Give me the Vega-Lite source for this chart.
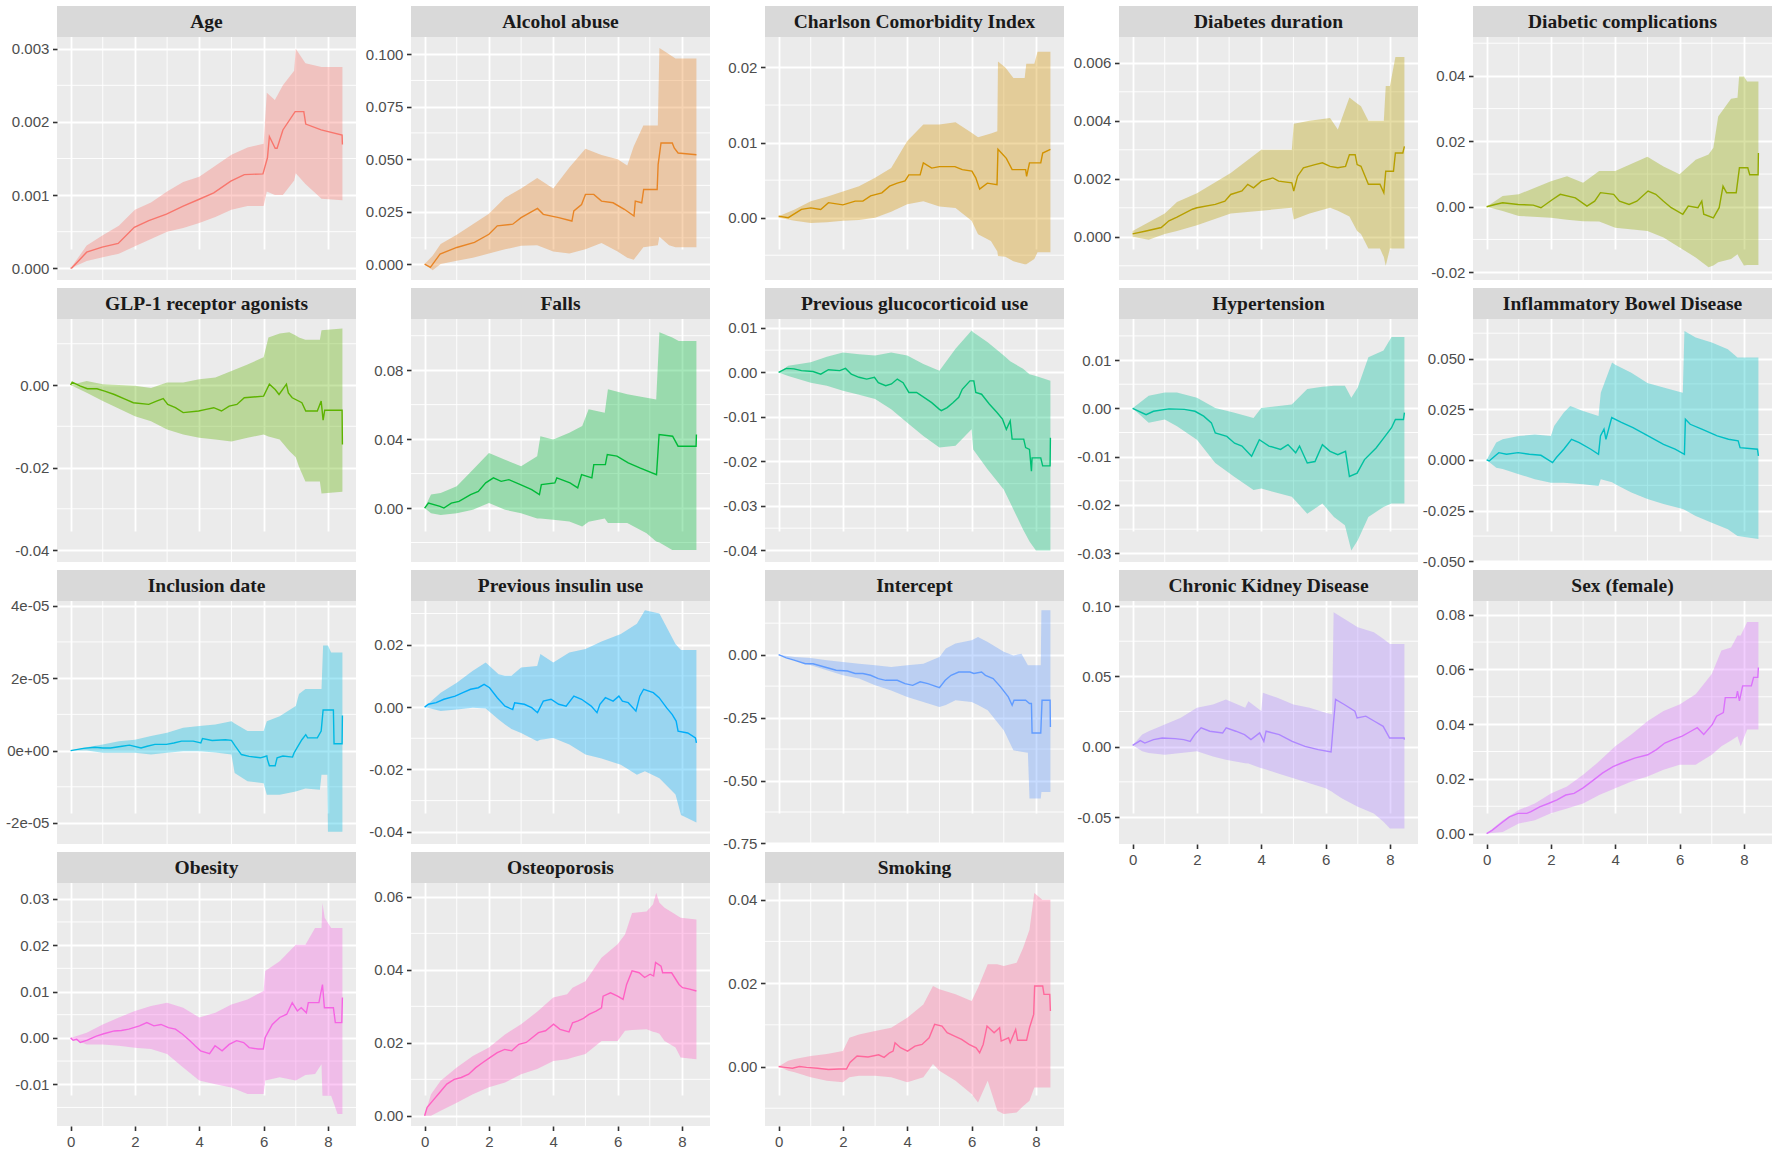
{
  "$schema": "https://vega.github.io/schema/vega-lite/v6.json",
  "background": "#FFFFFF",
  "padding": {"left": 5, "top": 5, "right": 2, "bottom": 2},
  "datasets": {
    "xminor": [{"x": 1}, {"x": 3}, {"x": 5}, {"x": 7}],
    "est": [
      {"p":"age","t":0,"y":0},{"p":"age","t":0.05,"y":0.00001},{"p":"age","t":0.5,"y":0.00022},{"p":"age","t":0.98,"y":0.00029},{"p":"age","t":1.48,"y":0.00034},{"p":"age","t":1.98,"y":0.00056},{"p":"age","t":2.43,"y":0.00065},{"p":"age","t":2.98,"y":0.00074},{"p":"age","t":3.5,"y":0.00085},{"p":"age","t":3.98,"y":0.00094},{"p":"age","t":4.45,"y":0.00103},{"p":"age","t":4.98,"y":0.00119},{"p":"age","t":5.4,"y":0.00128},{"p":"age","t":5.98,"y":0.00129},{"p":"age","t":6.12,"y":0.00151},{"p":"age","t":6.18,"y":0.0018},{"p":"age","t":6.36,"y":0.00164},{"p":"age","t":6.42,"y":0.00164},{"p":"age","t":6.6,"y":0.00189},{"p":"age","t":6.98,"y":0.00214},{"p":"age","t":7.25,"y":0.00214},{"p":"age","t":7.31,"y":0.00197},{"p":"age","t":7.79,"y":0.00189},{"p":"age","t":8.44,"y":0.00182},{"p":"age","t":8.45,"y":0.00169},
      {"p":"alc","t":0,"y":0},{"p":"alc","t":0.18,"y":-0.0016},{"p":"alc","t":0.48,"y":0.0047},{"p":"alc","t":1.0,"y":0.0079},{"p":"alc","t":1.55,"y":0.0103},{"p":"alc","t":2.0,"y":0.0142},{"p":"alc","t":2.26,"y":0.0182},{"p":"alc","t":2.74,"y":0.019},{"p":"alc","t":3.0,"y":0.0221},{"p":"alc","t":3.51,"y":0.0265},{"p":"alc","t":3.69,"y":0.0237},{"p":"alc","t":4.17,"y":0.0221},{"p":"alc","t":4.58,"y":0.0205},{"p":"alc","t":4.64,"y":0.0253},{"p":"alc","t":4.88,"y":0.0284},{"p":"alc","t":5.0,"y":0.0332},{"p":"alc","t":5.26,"y":0.0332},{"p":"alc","t":5.5,"y":0.03},{"p":"alc","t":5.86,"y":0.0292},{"p":"alc","t":6.21,"y":0.0261},{"p":"alc","t":6.51,"y":0.0229},{"p":"alc","t":6.55,"y":0.03},{"p":"alc","t":6.75,"y":0.0292},{"p":"alc","t":6.81,"y":0.0355},{"p":"alc","t":7.23,"y":0.0355},{"p":"alc","t":7.26,"y":0.0474},{"p":"alc","t":7.35,"y":0.0577},{"p":"alc","t":7.7,"y":0.0577},{"p":"alc","t":7.76,"y":0.0553},{"p":"alc","t":7.88,"y":0.0529},{"p":"alc","t":8.45,"y":0.0521},
      {"p":"cci","t":0,"y":0.0002},{"p":"cci","t":0.3,"y":0},{"p":"cci","t":0.71,"y":0.0011},{"p":"cci","t":1.0,"y":0.0013},{"p":"cci","t":1.31,"y":0.0011},{"p":"cci","t":1.55,"y":0.002},{"p":"cci","t":2.0,"y":0.0017},{"p":"cci","t":2.38,"y":0.0022},{"p":"cci","t":2.62,"y":0.0022},{"p":"cci","t":2.86,"y":0.0029},{"p":"cci","t":3.21,"y":0.0033},{"p":"cci","t":3.45,"y":0.0042},{"p":"cci","t":3.69,"y":0.0046},{"p":"cci","t":3.93,"y":0.0049},{"p":"cci","t":4.05,"y":0.0057},{"p":"cci","t":4.4,"y":0.0057},{"p":"cci","t":4.5,"y":0.0073},{"p":"cci","t":4.76,"y":0.0066},{"p":"cci","t":5.0,"y":0.0068},{"p":"cci","t":5.48,"y":0.0068},{"p":"cci","t":5.71,"y":0.0064},{"p":"cci","t":6.01,"y":0.0062},{"p":"cci","t":6.13,"y":0.0053},{"p":"cci","t":6.25,"y":0.0038},{"p":"cci","t":6.49,"y":0.0046},{"p":"cci","t":6.79,"y":0.0044},{"p":"cci","t":6.82,"y":0.0091},{"p":"cci","t":7.08,"y":0.0079},{"p":"cci","t":7.26,"y":0.0064},{"p":"cci","t":7.68,"y":0.0064},{"p":"cci","t":7.71,"y":0.0055},{"p":"cci","t":7.8,"y":0.0073},{"p":"cci","t":8.15,"y":0.0073},{"p":"cci","t":8.21,"y":0.0086},{"p":"cci","t":8.45,"y":0.0091},
      {"p":"dd","t":0,"y":0.0001},{"p":"dd","t":0.42,"y":0.0002},{"p":"dd","t":0.89,"y":0.00032},{"p":"dd","t":1.13,"y":0.00055},{"p":"dd","t":1.38,"y":0.00068},{"p":"dd","t":1.86,"y":0.00095},{"p":"dd","t":2.0,"y":0.001},{"p":"dd","t":2.57,"y":0.00112},{"p":"dd","t":2.87,"y":0.00123},{"p":"dd","t":3.05,"y":0.00146},{"p":"dd","t":3.4,"y":0.00158},{"p":"dd","t":3.58,"y":0.00181},{"p":"dd","t":3.76,"y":0.00169},{"p":"dd","t":4.0,"y":0.00192},{"p":"dd","t":4.36,"y":0.00203},{"p":"dd","t":4.54,"y":0.00192},{"p":"dd","t":4.95,"y":0.00186},{"p":"dd","t":5.01,"y":0.00158},{"p":"dd","t":5.13,"y":0.00209},{"p":"dd","t":5.31,"y":0.00238},{"p":"dd","t":5.67,"y":0.00249},{"p":"dd","t":5.9,"y":0.00255},{"p":"dd","t":6.14,"y":0.00243},{"p":"dd","t":6.38,"y":0.00238},{"p":"dd","t":6.62,"y":0.00243},{"p":"dd","t":6.74,"y":0.00283},{"p":"dd","t":6.92,"y":0.00283},{"p":"dd","t":6.98,"y":0.00249},{"p":"dd","t":7.1,"y":0.00243},{"p":"dd","t":7.33,"y":0.00181},{"p":"dd","t":7.69,"y":0.00181},{"p":"dd","t":7.81,"y":0.00152},{"p":"dd","t":7.87,"y":0.00226},{"p":"dd","t":8.11,"y":0.00226},{"p":"dd","t":8.17,"y":0.00289},{"p":"dd","t":8.4,"y":0.00289},{"p":"dd","t":8.45,"y":0.00312},
      {"p":"dc","t":0,"y":0},{"p":"dc","t":0.26,"y":0.0007},{"p":"dc","t":0.5,"y":0.0012},{"p":"dc","t":0.98,"y":0.0007},{"p":"dc","t":1.45,"y":0.0005},{"p":"dc","t":1.69,"y":-0.0003},{"p":"dc","t":2.05,"y":0.0022},{"p":"dc","t":2.29,"y":0.0038},{"p":"dc","t":2.76,"y":0.0027},{"p":"dc","t":3.12,"y":0.0002},{"p":"dc","t":3.36,"y":0.0017},{"p":"dc","t":3.54,"y":0.0043},{"p":"dc","t":3.95,"y":0.0038},{"p":"dc","t":4.13,"y":0.0017},{"p":"dc","t":4.43,"y":0.0007},{"p":"dc","t":4.67,"y":0.0017},{"p":"dc","t":5.02,"y":0.0048},{"p":"dc","t":5.26,"y":0.0038},{"p":"dc","t":5.5,"y":0.0017},{"p":"dc","t":5.74,"y":-0.0003},{"p":"dc","t":6.1,"y":-0.0023},{"p":"dc","t":6.27,"y":0.0002},{"p":"dc","t":6.57,"y":-0.0003},{"p":"dc","t":6.69,"y":0.0017},{"p":"dc","t":6.75,"y":-0.0023},{"p":"dc","t":7.05,"y":-0.0034},{"p":"dc","t":7.23,"y":-0.0003},{"p":"dc","t":7.35,"y":0.0063},{"p":"dc","t":7.46,"y":0.0043},{"p":"dc","t":7.76,"y":0.0043},{"p":"dc","t":7.86,"y":0.0119},{"p":"dc","t":8.12,"y":0.0119},{"p":"dc","t":8.18,"y":0.0098},{"p":"dc","t":8.44,"y":0.0098},{"p":"dc","t":8.45,"y":0.0164},
      {"p":"glp","t":0,"y":0},{"p":"glp","t":0.05,"y":0.0007},{"p":"glp","t":0.29,"y":-0.0002},{"p":"glp","t":0.52,"y":-0.0009},{"p":"glp","t":0.82,"y":-0.0009},{"p":"glp","t":1.06,"y":-0.0015},{"p":"glp","t":1.36,"y":-0.0023},{"p":"glp","t":1.71,"y":-0.0035},{"p":"glp","t":1.95,"y":-0.0043},{"p":"glp","t":2.43,"y":-0.0047},{"p":"glp","t":2.67,"y":-0.0039},{"p":"glp","t":2.88,"y":-0.0033},{"p":"glp","t":3.02,"y":-0.0047},{"p":"glp","t":3.26,"y":-0.0055},{"p":"glp","t":3.5,"y":-0.0067},{"p":"glp","t":3.98,"y":-0.0063},{"p":"glp","t":4.21,"y":-0.0059},{"p":"glp","t":4.45,"y":-0.0055},{"p":"glp","t":4.69,"y":-0.0063},{"p":"glp","t":4.93,"y":-0.0051},{"p":"glp","t":5.17,"y":-0.0047},{"p":"glp","t":5.4,"y":-0.0031},{"p":"glp","t":6.0,"y":-0.0027},{"p":"glp","t":6.18,"y":0.0002},{"p":"glp","t":6.36,"y":-0.0011},{"p":"glp","t":6.48,"y":-0.0023},{"p":"glp","t":6.71,"y":0.0002},{"p":"glp","t":6.77,"y":-0.0019},{"p":"glp","t":6.89,"y":-0.0031},{"p":"glp","t":7.19,"y":-0.0043},{"p":"glp","t":7.31,"y":-0.0063},{"p":"glp","t":7.67,"y":-0.0063},{"p":"glp","t":7.79,"y":-0.0039},{"p":"glp","t":7.85,"y":-0.0085},{"p":"glp","t":7.9,"y":-0.0061},{"p":"glp","t":8.44,"y":-0.0061},{"p":"glp","t":8.45,"y":-0.0144},
      {"p":"fall","t":0,"y":0},{"p":"fall","t":0.12,"y":0.0029},{"p":"fall","t":0.48,"y":0.001},{"p":"fall","t":0.6,"y":0},{"p":"fall","t":0.83,"y":0.0029},{"p":"fall","t":1.07,"y":0.0039},{"p":"fall","t":1.43,"y":0.0078},{"p":"fall","t":1.67,"y":0.0097},{"p":"fall","t":1.9,"y":0.0146},{"p":"fall","t":2.14,"y":0.0175},{"p":"fall","t":2.38,"y":0.0155},{"p":"fall","t":2.62,"y":0.0165},{"p":"fall","t":2.98,"y":0.0136},{"p":"fall","t":3.33,"y":0.0107},{"p":"fall","t":3.57,"y":0.0078},{"p":"fall","t":3.63,"y":0.0136},{"p":"fall","t":4.05,"y":0.0146},{"p":"fall","t":4.11,"y":0.0175},{"p":"fall","t":4.52,"y":0.0146},{"p":"fall","t":4.76,"y":0.0117},{"p":"fall","t":4.88,"y":0.0194},{"p":"fall","t":5.2,"y":0.0175},{"p":"fall","t":5.26,"y":0.0252},{"p":"fall","t":5.62,"y":0.0252},{"p":"fall","t":5.68,"y":0.0311},{"p":"fall","t":5.98,"y":0.0301},{"p":"fall","t":6.33,"y":0.0262},{"p":"fall","t":6.69,"y":0.0233},{"p":"fall","t":7.21,"y":0.0194},{"p":"fall","t":7.29,"y":0.0427},{"p":"fall","t":7.71,"y":0.0417},{"p":"fall","t":7.88,"y":0.0359},{"p":"fall","t":8.44,"y":0.0359},{"p":"fall","t":8.45,"y":0.0427},
      {"p":"gc","t":0,"y":0},{"p":"gc","t":0.24,"y":0.0009},{"p":"gc","t":0.48,"y":0.0008},{"p":"gc","t":0.71,"y":0.0004},{"p":"gc","t":1.07,"y":0.0002},{"p":"gc","t":1.31,"y":-0.0004},{"p":"gc","t":1.55,"y":0.0006},{"p":"gc","t":1.9,"y":0.0004},{"p":"gc","t":2.08,"y":0.0009},{"p":"gc","t":2.26,"y":-0.0004},{"p":"gc","t":2.5,"y":-0.0011},{"p":"gc","t":2.74,"y":-0.0015},{"p":"gc","t":2.98,"y":-0.0011},{"p":"gc","t":3.1,"y":-0.0023},{"p":"gc","t":3.33,"y":-0.003},{"p":"gc","t":3.51,"y":-0.0026},{"p":"gc","t":3.69,"y":-0.0015},{"p":"gc","t":3.87,"y":-0.0023},{"p":"gc","t":4.05,"y":-0.0045},{"p":"gc","t":4.29,"y":-0.0045},{"p":"gc","t":4.52,"y":-0.0056},{"p":"gc","t":4.76,"y":-0.0068},{"p":"gc","t":5.0,"y":-0.0083},{"p":"gc","t":5.06,"y":-0.0086},{"p":"gc","t":5.24,"y":-0.0079},{"p":"gc","t":5.42,"y":-0.0068},{"p":"gc","t":5.6,"y":-0.0056},{"p":"gc","t":5.71,"y":-0.0038},{"p":"gc","t":5.95,"y":-0.0019},{"p":"gc","t":6.07,"y":-0.0019},{"p":"gc","t":6.13,"y":-0.0045},{"p":"gc","t":6.31,"y":-0.0049},{"p":"gc","t":6.55,"y":-0.0071},{"p":"gc","t":6.79,"y":-0.009},{"p":"gc","t":6.96,"y":-0.0105},{"p":"gc","t":7.08,"y":-0.0128},{"p":"gc","t":7.2,"y":-0.0109},{"p":"gc","t":7.26,"y":-0.015},{"p":"gc","t":7.62,"y":-0.015},{"p":"gc","t":7.68,"y":-0.0169},{"p":"gc","t":7.8,"y":-0.0173},{"p":"gc","t":7.86,"y":-0.0222},{"p":"gc","t":7.88,"y":-0.0192},{"p":"gc","t":8.15,"y":-0.0192},{"p":"gc","t":8.21,"y":-0.021},{"p":"gc","t":8.44,"y":-0.021},{"p":"gc","t":8.45,"y":-0.0147},
      {"p":"ht","t":0,"y":0},{"p":"ht","t":0.42,"y":-0.0013},{"p":"ht","t":0.65,"y":-0.0006},{"p":"ht","t":1.13,"y":-0.0001},{"p":"ht","t":1.61,"y":-0.0002},{"p":"ht","t":1.94,"y":-0.0006},{"p":"ht","t":2.21,"y":-0.0016},{"p":"ht","t":2.45,"y":-0.003},{"p":"ht","t":2.57,"y":-0.0051},{"p":"ht","t":2.93,"y":-0.0058},{"p":"ht","t":3.17,"y":-0.0072},{"p":"ht","t":3.4,"y":-0.0078},{"p":"ht","t":3.7,"y":-0.0099},{"p":"ht","t":3.94,"y":-0.0065},{"p":"ht","t":4.24,"y":-0.0078},{"p":"ht","t":4.6,"y":-0.0085},{"p":"ht","t":4.83,"y":-0.0075},{"p":"ht","t":5.07,"y":-0.0092},{"p":"ht","t":5.19,"y":-0.0078},{"p":"ht","t":5.43,"y":-0.0113},{"p":"ht","t":5.67,"y":-0.011},{"p":"ht","t":5.9,"y":-0.0075},{"p":"ht","t":6.14,"y":-0.0089},{"p":"ht","t":6.38,"y":-0.0096},{"p":"ht","t":6.62,"y":-0.0089},{"p":"ht","t":6.74,"y":-0.0141},{"p":"ht","t":6.98,"y":-0.0134},{"p":"ht","t":7.21,"y":-0.0106},{"p":"ht","t":7.57,"y":-0.0082},{"p":"ht","t":7.81,"y":-0.0061},{"p":"ht","t":8.05,"y":-0.004},{"p":"ht","t":8.17,"y":-0.0023},{"p":"ht","t":8.42,"y":-0.0023},{"p":"ht","t":8.45,"y":-0.0009},
      {"p":"ibd","t":0,"y":0},{"p":"ibd","t":0.08,"y":-0.0005},{"p":"ibd","t":0.26,"y":0.002},{"p":"ibd","t":0.38,"y":0.0036},{"p":"ibd","t":0.62,"y":0.0028},{"p":"ibd","t":0.98,"y":0.0036},{"p":"ibd","t":1.33,"y":0.0028},{"p":"ibd","t":1.69,"y":0.0023},{"p":"ibd","t":2.05,"y":-0.0013},{"p":"ibd","t":2.17,"y":0.0012},{"p":"ibd","t":2.4,"y":0.0053},{"p":"ibd","t":2.64,"y":0.0102},{"p":"ibd","t":2.88,"y":0.0086},{"p":"ibd","t":3.24,"y":0.0053},{"p":"ibd","t":3.48,"y":0.0028},{"p":"ibd","t":3.54,"y":0.0119},{"p":"ibd","t":3.65,"y":0.0152},{"p":"ibd","t":3.71,"y":0.0102},{"p":"ibd","t":3.89,"y":0.0209},{"p":"ibd","t":4.19,"y":0.0185},{"p":"ibd","t":4.55,"y":0.016},{"p":"ibd","t":5.02,"y":0.0119},{"p":"ibd","t":5.5,"y":0.0077},{"p":"ibd","t":5.86,"y":0.0053},{"p":"ibd","t":6.15,"y":0.0028},{"p":"ibd","t":6.18,"y":0.0201},{"p":"ibd","t":6.33,"y":0.0176},{"p":"ibd","t":6.69,"y":0.0152},{"p":"ibd","t":7.17,"y":0.0119},{"p":"ibd","t":7.52,"y":0.0102},{"p":"ibd","t":7.82,"y":0.0094},{"p":"ibd","t":7.88,"y":0.0061},{"p":"ibd","t":8.42,"y":0.0053},{"p":"ibd","t":8.45,"y":0.002},
      {"p":"inc","t":0,"y":0},{"p":"inc","t":0.4,"y":6e-7},{"p":"inc","t":0.76,"y":9e-7},{"p":"inc","t":1.0,"y":7e-7},{"p":"inc","t":1.24,"y":7e-7},{"p":"inc","t":1.6,"y":1.2e-6},{"p":"inc","t":1.83,"y":1.5e-6},{"p":"inc","t":2.19,"y":7e-7},{"p":"inc","t":2.38,"y":1.2e-6},{"p":"inc","t":2.62,"y":1.7e-6},{"p":"inc","t":2.98,"y":1.7e-6},{"p":"inc","t":3.21,"y":2.1e-6},{"p":"inc","t":3.45,"y":2.6e-6},{"p":"inc","t":3.81,"y":2.6e-6},{"p":"inc","t":4.05,"y":2.1e-6},{"p":"inc","t":4.1,"y":3.3e-6},{"p":"inc","t":4.4,"y":2.8e-6},{"p":"inc","t":4.81,"y":3e-6},{"p":"inc","t":5.0,"y":2.8e-6},{"p":"inc","t":5.12,"y":1.2e-6},{"p":"inc","t":5.31,"y":-1.1e-6},{"p":"inc","t":5.55,"y":-1.6e-6},{"p":"inc","t":5.9,"y":-2e-6},{"p":"inc","t":6.1,"y":-1.5e-6},{"p":"inc","t":6.12,"y":-2.5e-6},{"p":"inc","t":6.18,"y":-4.2e-6},{"p":"inc","t":6.36,"y":-4.2e-6},{"p":"inc","t":6.42,"y":-2e-6},{"p":"inc","t":6.6,"y":-1.5e-6},{"p":"inc","t":6.9,"y":-1.8e-6},{"p":"inc","t":6.95,"y":-6e-7},{"p":"inc","t":7.07,"y":1.2e-6},{"p":"inc","t":7.19,"y":3e-6},{"p":"inc","t":7.31,"y":4.4e-6},{"p":"inc","t":7.37,"y":3.5e-6},{"p":"inc","t":7.67,"y":3.5e-6},{"p":"inc","t":7.79,"y":5.4e-6},{"p":"inc","t":7.85,"y":1.12e-5},{"p":"inc","t":8.17,"y":1.12e-5},{"p":"inc","t":8.19,"y":1.9e-6},{"p":"inc","t":8.44,"y":1.9e-6},{"p":"inc","t":8.45,"y":9.7e-6},
      {"p":"ins","t":0,"y":0},{"p":"ins","t":0.12,"y":0.0009},{"p":"ins","t":0.36,"y":0.0014},{"p":"ins","t":0.6,"y":0.0025},{"p":"ins","t":0.95,"y":0.0035},{"p":"ins","t":1.19,"y":0.0046},{"p":"ins","t":1.43,"y":0.0057},{"p":"ins","t":1.67,"y":0.0062},{"p":"ins","t":1.85,"y":0.0073},{"p":"ins","t":2.02,"y":0.0062},{"p":"ins","t":2.26,"y":0.003},{"p":"ins","t":2.5,"y":0.0003},{"p":"ins","t":2.74,"y":-0.0008},{"p":"ins","t":2.8,"y":0.0014},{"p":"ins","t":3.1,"y":0.0009},{"p":"ins","t":3.33,"y":-0.0002},{"p":"ins","t":3.51,"y":-0.0018},{"p":"ins","t":3.69,"y":0.0019},{"p":"ins","t":3.93,"y":0.0025},{"p":"ins","t":4.17,"y":0.0009},{"p":"ins","t":4.4,"y":0.0003},{"p":"ins","t":4.64,"y":0.0035},{"p":"ins","t":4.88,"y":0.0025},{"p":"ins","t":5.18,"y":0.0003},{"p":"ins","t":5.36,"y":-0.0018},{"p":"ins","t":5.45,"y":0.0009},{"p":"ins","t":5.62,"y":0.003},{"p":"ins","t":5.86,"y":0.0019},{"p":"ins","t":6.04,"y":0.0035},{"p":"ins","t":6.15,"y":0.0019},{"p":"ins","t":6.33,"y":0.0014},{"p":"ins","t":6.57,"y":-0.0013},{"p":"ins","t":6.69,"y":0.0035},{"p":"ins","t":6.81,"y":0.0057},{"p":"ins","t":7.11,"y":0.0046},{"p":"ins","t":7.29,"y":0.003},{"p":"ins","t":7.52,"y":-0.0002},{"p":"ins","t":7.7,"y":-0.0024},{"p":"ins","t":7.82,"y":-0.0045},{"p":"ins","t":7.88,"y":-0.0077},{"p":"ins","t":8.18,"y":-0.0083},{"p":"ins","t":8.42,"y":-0.0099},{"p":"ins","t":8.45,"y":-0.0115},
      {"p":"int","t":0,"y":0},{"p":"int","t":0.24,"y":-0.013},{"p":"int","t":0.48,"y":-0.022},{"p":"int","t":0.83,"y":-0.036},{"p":"int","t":1.07,"y":-0.036},{"p":"int","t":1.43,"y":-0.049},{"p":"int","t":1.79,"y":-0.062},{"p":"int","t":2.14,"y":-0.065},{"p":"int","t":2.38,"y":-0.075},{"p":"int","t":2.62,"y":-0.075},{"p":"int","t":2.86,"y":-0.082},{"p":"int","t":3.1,"y":-0.095},{"p":"int","t":3.33,"y":-0.102},{"p":"int","t":3.69,"y":-0.102},{"p":"int","t":3.93,"y":-0.115},{"p":"int","t":4.17,"y":-0.122},{"p":"int","t":4.4,"y":-0.108},{"p":"int","t":4.64,"y":-0.115},{"p":"int","t":5.0,"y":-0.131},{"p":"int","t":5.18,"y":-0.102},{"p":"int","t":5.36,"y":-0.082},{"p":"int","t":5.6,"y":-0.069},{"p":"int","t":5.95,"y":-0.069},{"p":"int","t":6.07,"y":-0.075},{"p":"int","t":6.31,"y":-0.069},{"p":"int","t":6.43,"y":-0.082},{"p":"int","t":6.67,"y":-0.095},{"p":"int","t":6.9,"y":-0.128},{"p":"int","t":7.14,"y":-0.168},{"p":"int","t":7.26,"y":-0.201},{"p":"int","t":7.32,"y":-0.181},{"p":"int","t":7.68,"y":-0.181},{"p":"int","t":7.8,"y":-0.194},{"p":"int","t":7.86,"y":-0.194},{"p":"int","t":7.88,"y":-0.311},{"p":"int","t":8.15,"y":-0.311},{"p":"int","t":8.19,"y":-0.181},{"p":"int","t":8.44,"y":-0.181},{"p":"int","t":8.45,"y":-0.287},
      {"p":"ckd","t":0,"y":0.001},{"p":"ckd","t":0.24,"y":0.0043},{"p":"ckd","t":0.38,"y":0.0026},{"p":"ckd","t":0.65,"y":0.005},{"p":"ckd","t":0.92,"y":0.0062},{"p":"ckd","t":1.32,"y":0.0057},{"p":"ckd","t":1.59,"y":0.005},{"p":"ckd","t":1.79,"y":0.0038},{"p":"ckd","t":1.93,"y":0.0086},{"p":"ckd","t":2.13,"y":0.0134},{"p":"ckd","t":2.4,"y":0.011},{"p":"ckd","t":2.8,"y":0.0098},{"p":"ckd","t":2.91,"y":0.0134},{"p":"ckd","t":3.21,"y":0.011},{"p":"ckd","t":3.48,"y":0.0086},{"p":"ckd","t":3.68,"y":0.005},{"p":"ckd","t":3.95,"y":0.0098},{"p":"ckd","t":4.08,"y":0.0038},{"p":"ckd","t":4.15,"y":0.011},{"p":"ckd","t":4.56,"y":0.0086},{"p":"ckd","t":4.96,"y":0.0038},{"p":"ckd","t":5.36,"y":0.0002},{"p":"ckd","t":5.77,"y":-0.0021},{"p":"ckd","t":6.17,"y":-0.0038},{"p":"ckd","t":6.24,"y":0.0157},{"p":"ckd","t":6.31,"y":0.0336},{"p":"ckd","t":6.58,"y":0.03},{"p":"ckd","t":6.91,"y":0.0253},{"p":"ckd","t":6.98,"y":0.0205},{"p":"ckd","t":7.25,"y":0.0217},{"p":"ckd","t":7.52,"y":0.0181},{"p":"ckd","t":7.79,"y":0.0145},{"p":"ckd","t":7.99,"y":0.0062},{"p":"ckd","t":8.44,"y":0.0062},{"p":"ckd","t":8.45,"y":0.005},
      {"p":"sex","t":0,"y":0},{"p":"sex","t":0.17,"y":0.0012},{"p":"sex","t":0.44,"y":0.0037},{"p":"sex","t":0.71,"y":0.0061},{"p":"sex","t":0.98,"y":0.0074},{"p":"sex","t":1.25,"y":0.0074},{"p":"sex","t":1.38,"y":0.008},{"p":"sex","t":1.65,"y":0.0098},{"p":"sex","t":1.92,"y":0.011},{"p":"sex","t":2.19,"y":0.0123},{"p":"sex","t":2.46,"y":0.0141},{"p":"sex","t":2.72,"y":0.0147},{"p":"sex","t":2.99,"y":0.0166},{"p":"sex","t":3.26,"y":0.019},{"p":"sex","t":3.6,"y":0.0221},{"p":"sex","t":3.93,"y":0.0245},{"p":"sex","t":4.2,"y":0.0258},{"p":"sex","t":4.6,"y":0.0276},{"p":"sex","t":5.01,"y":0.0288},{"p":"sex","t":5.28,"y":0.0307},{"p":"sex","t":5.54,"y":0.0331},{"p":"sex","t":5.81,"y":0.0344},{"p":"sex","t":6.08,"y":0.0356},{"p":"sex","t":6.35,"y":0.0374},{"p":"sex","t":6.55,"y":0.0387},{"p":"sex","t":6.75,"y":0.0362},{"p":"sex","t":7.02,"y":0.0399},{"p":"sex","t":7.15,"y":0.0429},{"p":"sex","t":7.36,"y":0.0442},{"p":"sex","t":7.42,"y":0.0497},{"p":"sex","t":7.76,"y":0.0497},{"p":"sex","t":7.8,"y":0.0521},{"p":"sex","t":7.86,"y":0.0485},{"p":"sex","t":7.96,"y":0.054},{"p":"sex","t":8.23,"y":0.054},{"p":"sex","t":8.3,"y":0.0571},{"p":"sex","t":8.43,"y":0.0571},{"p":"sex","t":8.45,"y":0.0607},
      {"p":"ob","t":0,"y":0},{"p":"ob","t":0.08,"y":-0.0005},{"p":"ob","t":0.19,"y":-0.0003},{"p":"ob","t":0.3,"y":-0.001},{"p":"ob","t":0.52,"y":-0.0005},{"p":"ob","t":0.8,"y":0.0004},{"p":"ob","t":1.03,"y":0.0009},{"p":"ob","t":1.36,"y":0.0015},{"p":"ob","t":1.58,"y":0.0016},{"p":"ob","t":1.81,"y":0.0019},{"p":"ob","t":2.14,"y":0.0026},{"p":"ob","t":2.37,"y":0.0033},{"p":"ob","t":2.59,"y":0.0026},{"p":"ob","t":2.81,"y":0.0029},{"p":"ob","t":3.04,"y":0.0022},{"p":"ob","t":3.26,"y":0.0019},{"p":"ob","t":3.48,"y":0.0008},{"p":"ob","t":3.71,"y":-0.0006},{"p":"ob","t":3.87,"y":-0.0017},{"p":"ob","t":4.04,"y":-0.0028},{"p":"ob","t":4.32,"y":-0.0034},{"p":"ob","t":4.49,"y":-0.0017},{"p":"ob","t":4.71,"y":-0.0028},{"p":"ob","t":4.93,"y":-0.0014},{"p":"ob","t":5.16,"y":-0.0006},{"p":"ob","t":5.38,"y":-0.001},{"p":"ob","t":5.55,"y":-0.0021},{"p":"ob","t":5.83,"y":-0.0024},{"p":"ob","t":5.99,"y":-0.0024},{"p":"ob","t":6.05,"y":0.0001},{"p":"ob","t":6.16,"y":0.0015},{"p":"ob","t":6.27,"y":0.0029},{"p":"ob","t":6.5,"y":0.0044},{"p":"ob","t":6.72,"y":0.0051},{"p":"ob","t":6.89,"y":0.0076},{"p":"ob","t":7.05,"y":0.0058},{"p":"ob","t":7.17,"y":0.0065},{"p":"ob","t":7.33,"y":0.0054},{"p":"ob","t":7.39,"y":0.0076},{"p":"ob","t":7.72,"y":0.0076},{"p":"ob","t":7.83,"y":0.0115},{"p":"ob","t":7.89,"y":0.0065},{"p":"ob","t":8.17,"y":0.0065},{"p":"ob","t":8.23,"y":0.0033},{"p":"ob","t":8.43,"y":0.0033},{"p":"ob","t":8.45,"y":0.0087},
      {"p":"op","t":0,"y":0},{"p":"op","t":0.08,"y":0.0023},{"p":"op","t":0.25,"y":0.0041},{"p":"op","t":0.47,"y":0.0064},{"p":"op","t":0.69,"y":0.0087},{"p":"op","t":0.92,"y":0.01},{"p":"op","t":1.14,"y":0.0105},{"p":"op","t":1.37,"y":0.0114},{"p":"op","t":1.59,"y":0.0132},{"p":"op","t":1.81,"y":0.0146},{"p":"op","t":2.04,"y":0.016},{"p":"op","t":2.26,"y":0.0173},{"p":"op","t":2.49,"y":0.0182},{"p":"op","t":2.71,"y":0.0178},{"p":"op","t":2.93,"y":0.0196},{"p":"op","t":3.16,"y":0.0201},{"p":"op","t":3.54,"y":0.0228},{"p":"op","t":3.76,"y":0.0233},{"p":"op","t":4.01,"y":0.0251},{"p":"op","t":4.21,"y":0.0237},{"p":"op","t":4.49,"y":0.023},{"p":"op","t":4.6,"y":0.0255},{"p":"op","t":4.77,"y":0.026},{"p":"op","t":4.94,"y":0.0267},{"p":"op","t":5.11,"y":0.0278},{"p":"op","t":5.33,"y":0.0287},{"p":"op","t":5.5,"y":0.0296},{"p":"op","t":5.55,"y":0.0328},{"p":"op","t":5.78,"y":0.0337},{"p":"op","t":6.0,"y":0.0328},{"p":"op","t":6.17,"y":0.0319},{"p":"op","t":6.28,"y":0.036},{"p":"op","t":6.45,"y":0.0397},{"p":"op","t":6.67,"y":0.0392},{"p":"op","t":6.84,"y":0.0379},{"p":"op","t":7.01,"y":0.0388},{"p":"op","t":7.12,"y":0.0383},{"p":"op","t":7.18,"y":0.042},{"p":"op","t":7.35,"y":0.041},{"p":"op","t":7.4,"y":0.0392},{"p":"op","t":7.68,"y":0.0392},{"p":"op","t":7.91,"y":0.036},{"p":"op","t":8.02,"y":0.0351},{"p":"op","t":8.24,"y":0.0347},{"p":"op","t":8.45,"y":0.0342},
      {"p":"sm","t":0,"y":0},{"p":"sm","t":0.2,"y":-0.0002},{"p":"sm","t":0.43,"y":-0.0004},{"p":"sm","t":0.65,"y":0},{"p":"sm","t":0.87,"y":-0.0002},{"p":"sm","t":1.21,"y":-0.0004},{"p":"sm","t":1.55,"y":-0.0007},{"p":"sm","t":1.88,"y":-0.0006},{"p":"sm","t":2.11,"y":-0.0006},{"p":"sm","t":2.22,"y":0.001},{"p":"sm","t":2.44,"y":0.0025},{"p":"sm","t":2.78,"y":0.0023},{"p":"sm","t":3.11,"y":0.0028},{"p":"sm","t":3.28,"y":0.0022},{"p":"sm","t":3.45,"y":0.0033},{"p":"sm","t":3.56,"y":0.0037},{"p":"sm","t":3.62,"y":0.0057},{"p":"sm","t":3.79,"y":0.0045},{"p":"sm","t":4.01,"y":0.0037},{"p":"sm","t":4.24,"y":0.0049},{"p":"sm","t":4.46,"y":0.0053},{"p":"sm","t":4.68,"y":0.0069},{"p":"sm","t":4.85,"y":0.0101},{"p":"sm","t":5.08,"y":0.0097},{"p":"sm","t":5.24,"y":0.0081},{"p":"sm","t":5.47,"y":0.0073},{"p":"sm","t":5.69,"y":0.0065},{"p":"sm","t":5.92,"y":0.0053},{"p":"sm","t":6.14,"y":0.0045},{"p":"sm","t":6.25,"y":0.0033},{"p":"sm","t":6.36,"y":0.0053},{"p":"sm","t":6.48,"y":0.0097},{"p":"sm","t":6.7,"y":0.0081},{"p":"sm","t":6.87,"y":0.0093},{"p":"sm","t":6.92,"y":0.0061},{"p":"sm","t":7.15,"y":0.0069},{"p":"sm","t":7.2,"y":0.0057},{"p":"sm","t":7.37,"y":0.0089},{"p":"sm","t":7.43,"y":0.0063},{"p":"sm","t":7.71,"y":0.0063},{"p":"sm","t":7.8,"y":0.0093},{"p":"sm","t":7.93,"y":0.0125},{"p":"sm","t":7.96,"y":0.0193},{"p":"sm","t":8.21,"y":0.0193},{"p":"sm","t":8.25,"y":0.0173},{"p":"sm","t":8.43,"y":0.0173},{"p":"sm","t":8.45,"y":0.0133}
    ],
    "ci": [
      {"p":"age","t":0,"lo":0,"hi":0},{"p":"age","t":0.5,"lo":0.0001,"hi":0.00031},{"p":"age","t":1,"lo":0.00015,"hi":0.00045},{"p":"age","t":1.5,"lo":0.0002,"hi":0.00058},{"p":"age","t":2,"lo":0.0003,"hi":0.0008},{"p":"age","t":2.5,"lo":0.0004,"hi":0.0009},{"p":"age","t":3,"lo":0.0005,"hi":0.00105},{"p":"age","t":3.5,"lo":0.00055,"hi":0.00118},{"p":"age","t":4,"lo":0.00062,"hi":0.00125},{"p":"age","t":4.5,"lo":0.0007,"hi":0.0014},{"p":"age","t":5,"lo":0.0008,"hi":0.00155},{"p":"age","t":5.5,"lo":0.00085,"hi":0.00165},{"p":"age","t":6,"lo":0.00085,"hi":0.0017},{"p":"age","t":6.1,"lo":0.00105,"hi":0.0024},{"p":"age","t":6.35,"lo":0.001,"hi":0.0023},{"p":"age","t":6.6,"lo":0.001,"hi":0.0025},{"p":"age","t":6.95,"lo":0.0012,"hi":0.0027},{"p":"age","t":7,"lo":0.0013,"hi":0.003},{"p":"age","t":7.3,"lo":0.00115,"hi":0.0028},{"p":"age","t":7.8,"lo":0.00095,"hi":0.00275},{"p":"age","t":8.45,"lo":0.00093,"hi":0.00275},
      {"p":"alc","t":0,"lo":0,"hi":0},{"p":"alc","t":0.25,"lo":-0.003,"hi":0.004},{"p":"alc","t":0.5,"lo":0,"hi":0.0095},{"p":"alc","t":1,"lo":0.0016,"hi":0.014},{"p":"alc","t":1.5,"lo":0.003,"hi":0.019},{"p":"alc","t":2,"lo":0.005,"hi":0.024},{"p":"alc","t":2.5,"lo":0.007,"hi":0.0316},{"p":"alc","t":3,"lo":0.0087,"hi":0.036},{"p":"alc","t":3.5,"lo":0.009,"hi":0.041},{"p":"alc","t":4,"lo":0.006,"hi":0.036},{"p":"alc","t":4.5,"lo":0.005,"hi":0.046},{"p":"alc","t":5,"lo":0.007,"hi":0.055},{"p":"alc","t":5.5,"lo":0.01,"hi":0.052},{"p":"alc","t":6,"lo":0.006,"hi":0.05},{"p":"alc","t":6.3,"lo":0.003,"hi":0.047},{"p":"alc","t":6.5,"lo":0.002,"hi":0.056},{"p":"alc","t":6.8,"lo":0.008,"hi":0.066},{"p":"alc","t":7.25,"lo":0.009,"hi":0.066},{"p":"alc","t":7.3,"lo":0.013,"hi":0.103},{"p":"alc","t":7.6,"lo":0.009,"hi":0.1},{"p":"alc","t":7.8,"lo":0.008,"hi":0.098},{"p":"alc","t":8.45,"lo":0.008,"hi":0.098},
      {"p":"cci","t":0,"lo":0,"hi":0.0002},{"p":"cci","t":0.5,"lo":-0.0004,"hi":0.0011},{"p":"cci","t":1,"lo":-0.0007,"hi":0.0022},{"p":"cci","t":1.5,"lo":-0.0006,"hi":0.0028},{"p":"cci","t":2,"lo":-0.0004,"hi":0.0035},{"p":"cci","t":2.5,"lo":-0.0003,"hi":0.0042},{"p":"cci","t":3,"lo":0,"hi":0.0053},{"p":"cci","t":3.5,"lo":0.0008,"hi":0.0066},{"p":"cci","t":4,"lo":0.0018,"hi":0.0102},{"p":"cci","t":4.5,"lo":0.0022,"hi":0.0124},{"p":"cci","t":5,"lo":0.0015,"hi":0.0124},{"p":"cci","t":5.5,"lo":0.0013,"hi":0.0127},{"p":"cci","t":6,"lo":-0.0004,"hi":0.0113},{"p":"cci","t":6.2,"lo":-0.0022,"hi":0.0107},{"p":"cci","t":6.6,"lo":-0.0031,"hi":0.0112},{"p":"cci","t":6.8,"lo":-0.0045,"hi":0.0115},{"p":"cci","t":6.82,"lo":-0.0051,"hi":0.0208},{"p":"cci","t":7.05,"lo":-0.0052,"hi":0.02},{"p":"cci","t":7.3,"lo":-0.0058,"hi":0.0186},{"p":"cci","t":7.65,"lo":-0.0062,"hi":0.0186},{"p":"cci","t":7.7,"lo":-0.0062,"hi":0.0205},{"p":"cci","t":7.95,"lo":-0.0055,"hi":0.0205},{"p":"cci","t":8.05,"lo":-0.0046,"hi":0.0221},{"p":"cci","t":8.45,"lo":-0.0046,"hi":0.0221},
      {"p":"dd","t":0,"lo":0,"hi":0.0002},{"p":"dd","t":0.5,"lo":-0.0001,"hi":0.0005},{"p":"dd","t":1,"lo":0.0001,"hi":0.0008},{"p":"dd","t":1.38,"lo":0.0002,"hi":0.0012},{"p":"dd","t":2,"lo":0.0004,"hi":0.0015},{"p":"dd","t":3.05,"lo":0.0008,"hi":0.0022},{"p":"dd","t":4,"lo":0.0009,"hi":0.003},{"p":"dd","t":4.95,"lo":0.001,"hi":0.003},{"p":"dd","t":5.01,"lo":0.0006,"hi":0.0039},{"p":"dd","t":5.5,"lo":0.0008,"hi":0.004},{"p":"dd","t":6.14,"lo":0.001,"hi":0.0041},{"p":"dd","t":6.38,"lo":0.0009,"hi":0.0037},{"p":"dd","t":6.74,"lo":0.0007,"hi":0.0048},{"p":"dd","t":6.98,"lo":0.0002,"hi":0.0046},{"p":"dd","t":7.1,"lo":0.0001,"hi":0.0045},{"p":"dd","t":7.33,"lo":-0.0004,"hi":0.004},{"p":"dd","t":7.69,"lo":-0.0004,"hi":0.004},{"p":"dd","t":7.81,"lo":-0.0007,"hi":0.004},{"p":"dd","t":7.87,"lo":-0.001,"hi":0.0052},{"p":"dd","t":8,"lo":-0.0004,"hi":0.0052},{"p":"dd","t":8.17,"lo":-0.0004,"hi":0.0062},{"p":"dd","t":8.45,"lo":-0.0004,"hi":0.0062},
      {"p":"dc","t":0,"lo":0,"hi":0},{"p":"dc","t":0.5,"lo":-0.0013,"hi":0.0033},{"p":"dc","t":1,"lo":-0.0028,"hi":0.0038},{"p":"dc","t":2,"lo":-0.0034,"hi":0.0078},{"p":"dc","t":2.5,"lo":-0.004,"hi":0.0093},{"p":"dc","t":3,"lo":-0.0044,"hi":0.0073},{"p":"dc","t":3.5,"lo":-0.0045,"hi":0.0109},{"p":"dc","t":4,"lo":-0.0064,"hi":0.0109},{"p":"dc","t":5,"lo":-0.0074,"hi":0.0153},{"p":"dc","t":5.5,"lo":-0.0094,"hi":0.0123},{"p":"dc","t":6,"lo":-0.0125,"hi":0.0099},{"p":"dc","t":6.5,"lo":-0.0155,"hi":0.0144},{"p":"dc","t":6.9,"lo":-0.0185,"hi":0.016},{"p":"dc","t":7.05,"lo":-0.018,"hi":0.018},{"p":"dc","t":7.2,"lo":-0.017,"hi":0.0276},{"p":"dc","t":7.6,"lo":-0.016,"hi":0.033},{"p":"dc","t":7.8,"lo":-0.0145,"hi":0.0333},{"p":"dc","t":7.85,"lo":-0.0155,"hi":0.0398},{"p":"dc","t":8,"lo":-0.018,"hi":0.0398},{"p":"dc","t":8.1,"lo":-0.0178,"hi":0.0383},{"p":"dc","t":8.45,"lo":-0.0178,"hi":0.0383},
      {"p":"glp","t":0,"lo":0,"hi":0},{"p":"glp","t":0.5,"lo":-0.0019,"hi":0.001},{"p":"glp","t":1,"lo":-0.0039,"hi":0.0002},{"p":"glp","t":2,"lo":-0.0076,"hi":-0.0002},{"p":"glp","t":2.5,"lo":-0.0088,"hi":-0.0007},{"p":"glp","t":3,"lo":-0.0108,"hi":0.0006},{"p":"glp","t":3.5,"lo":-0.012,"hi":0.0006},{"p":"glp","t":4,"lo":-0.0128,"hi":0.0014},{"p":"glp","t":4.5,"lo":-0.0132,"hi":0.0018},{"p":"glp","t":5,"lo":-0.0137,"hi":0.0034},{"p":"glp","t":5.5,"lo":-0.0128,"hi":0.005},{"p":"glp","t":6,"lo":-0.012,"hi":0.0067},{"p":"glp","t":6.15,"lo":-0.0125,"hi":0.0115},{"p":"glp","t":6.5,"lo":-0.0132,"hi":0.0125},{"p":"glp","t":6.8,"lo":-0.016,"hi":0.0128},{"p":"glp","t":7,"lo":-0.0175,"hi":0.012},{"p":"glp","t":7.1,"lo":-0.0198,"hi":0.0115},{"p":"glp","t":7.3,"lo":-0.0234,"hi":0.011},{"p":"glp","t":7.75,"lo":-0.0234,"hi":0.011},{"p":"glp","t":7.8,"lo":-0.0263,"hi":0.0133},{"p":"glp","t":8.45,"lo":-0.0259,"hi":0.0137},
      {"p":"fall","t":0,"lo":0,"hi":0},{"p":"fall","t":0.2,"lo":-0.003,"hi":0.0078},{"p":"fall","t":0.5,"lo":-0.004,"hi":0.0087},{"p":"fall","t":1,"lo":-0.003,"hi":0.0126},{"p":"fall","t":1.5,"lo":-0.001,"hi":0.0223},{"p":"fall","t":2,"lo":0.003,"hi":0.032},{"p":"fall","t":2.5,"lo":-0.001,"hi":0.028},{"p":"fall","t":3,"lo":-0.003,"hi":0.0243},{"p":"fall","t":3.5,"lo":-0.006,"hi":0.03},{"p":"fall","t":3.6,"lo":-0.006,"hi":0.0417},{"p":"fall","t":4,"lo":-0.0068,"hi":0.0398},{"p":"fall","t":4.5,"lo":-0.0078,"hi":0.0437},{"p":"fall","t":4.9,"lo":-0.0107,"hi":0.0476},{"p":"fall","t":5.1,"lo":-0.008,"hi":0.0573},{"p":"fall","t":5.6,"lo":-0.006,"hi":0.0553},{"p":"fall","t":5.7,"lo":-0.0087,"hi":0.069},{"p":"fall","t":6.3,"lo":-0.0087,"hi":0.066},{"p":"fall","t":6.9,"lo":-0.0146,"hi":0.064},{"p":"fall","t":7.2,"lo":-0.0194,"hi":0.063},{"p":"fall","t":7.3,"lo":-0.02,"hi":0.102},{"p":"fall","t":7.7,"lo":-0.0243,"hi":0.099},{"p":"fall","t":7.9,"lo":-0.0243,"hi":0.097},{"p":"fall","t":8.45,"lo":-0.0243,"hi":0.097},
      {"p":"gc","t":0,"lo":0,"hi":0},{"p":"gc","t":0.3,"lo":-0.0008,"hi":0.0015},{"p":"gc","t":1,"lo":-0.0023,"hi":0.0023},{"p":"gc","t":1.5,"lo":-0.003,"hi":0.0035},{"p":"gc","t":2,"lo":-0.0041,"hi":0.0045},{"p":"gc","t":2.5,"lo":-0.005,"hi":0.0041},{"p":"gc","t":3,"lo":-0.006,"hi":0.0038},{"p":"gc","t":3.5,"lo":-0.0083,"hi":0.0045},{"p":"gc","t":4,"lo":-0.0113,"hi":0.0038},{"p":"gc","t":4.5,"lo":-0.0143,"hi":0.0019},{"p":"gc","t":5,"lo":-0.0169,"hi":0.0004},{"p":"gc","t":5.5,"lo":-0.0165,"hi":0.0053},{"p":"gc","t":6,"lo":-0.0128,"hi":0.0094},{"p":"gc","t":6.05,"lo":-0.0173,"hi":0.009},{"p":"gc","t":6.5,"lo":-0.0218,"hi":0.0068},{"p":"gc","t":7,"lo":-0.0263,"hi":0.0038},{"p":"gc","t":7.2,"lo":-0.0293,"hi":0.0025},{"p":"gc","t":7.6,"lo":-0.0353,"hi":0.0008},{"p":"gc","t":7.8,"lo":-0.038,"hi":-0.0004},{"p":"gc","t":8,"lo":-0.04,"hi":-0.0008},{"p":"gc","t":8.45,"lo":-0.04,"hi":-0.0019},
      {"p":"ht","t":0,"lo":0,"hi":0},{"p":"ht","t":0.5,"lo":-0.003,"hi":0.0026},{"p":"ht","t":1,"lo":-0.0023,"hi":0.0033},{"p":"ht","t":1.38,"lo":-0.0037,"hi":0.0033},{"p":"ht","t":2,"lo":-0.0065,"hi":0.0022},{"p":"ht","t":2.57,"lo":-0.0113,"hi":0.0001},{"p":"ht","t":3.17,"lo":-0.0142,"hi":-0.0009},{"p":"ht","t":3.76,"lo":-0.0169,"hi":-0.002},{"p":"ht","t":4,"lo":-0.0166,"hi":0.0001},{"p":"ht","t":4.95,"lo":-0.0183,"hi":0.0008},{"p":"ht","t":5.43,"lo":-0.0218,"hi":0.004},{"p":"ht","t":5.9,"lo":-0.0197,"hi":0.0045},{"p":"ht","t":6.26,"lo":-0.0225,"hi":0.0047},{"p":"ht","t":6.6,"lo":-0.0242,"hi":0.0047},{"p":"ht","t":6.8,"lo":-0.0294,"hi":0.0022},{"p":"ht","t":7,"lo":-0.0273,"hi":0.0043},{"p":"ht","t":7.33,"lo":-0.0225,"hi":0.0106},{"p":"ht","t":7.8,"lo":-0.0204,"hi":0.012},{"p":"ht","t":8.05,"lo":-0.0197,"hi":0.0148},{"p":"ht","t":8.45,"lo":-0.0197,"hi":0.0148},
      {"p":"ibd","t":0,"lo":0,"hi":0},{"p":"ibd","t":0.3,"lo":-0.0038,"hi":0.0086},{"p":"ibd","t":0.5,"lo":-0.0045,"hi":0.0102},{"p":"ibd","t":1,"lo":-0.007,"hi":0.0118},{"p":"ibd","t":1.5,"lo":-0.0095,"hi":0.0125},{"p":"ibd","t":2,"lo":-0.0112,"hi":0.0118},{"p":"ibd","t":2.1,"lo":-0.0112,"hi":0.0168},{"p":"ibd","t":2.4,"lo":-0.0112,"hi":0.0234},{"p":"ibd","t":2.6,"lo":-0.0115,"hi":0.0266},{"p":"ibd","t":3,"lo":-0.012,"hi":0.0242},{"p":"ibd","t":3.48,"lo":-0.0128,"hi":0.0217},{"p":"ibd","t":3.55,"lo":-0.0095,"hi":0.0332},{"p":"ibd","t":3.9,"lo":-0.011,"hi":0.048},{"p":"ibd","t":4,"lo":-0.012,"hi":0.047},{"p":"ibd","t":4.5,"lo":-0.016,"hi":0.043},{"p":"ibd","t":5,"lo":-0.0193,"hi":0.038},{"p":"ibd","t":5.5,"lo":-0.0217,"hi":0.0357},{"p":"ibd","t":6.1,"lo":-0.0242,"hi":0.0332},{"p":"ibd","t":6.15,"lo":-0.0245,"hi":0.0636},{"p":"ibd","t":6.5,"lo":-0.0276,"hi":0.0604},{"p":"ibd","t":7,"lo":-0.0309,"hi":0.0579},{"p":"ibd","t":7.5,"lo":-0.0342,"hi":0.0546},{"p":"ibd","t":7.8,"lo":-0.0375,"hi":0.0505},{"p":"ibd","t":8.45,"lo":-0.039,"hi":0.0505},
      {"p":"inc","t":0,"lo":0,"hi":0},{"p":"inc","t":0.5,"lo":0,"hi":9e-7},{"p":"inc","t":1,"lo":-6e-7,"hi":1.7e-6},{"p":"inc","t":1.5,"lo":-6e-7,"hi":2.6e-6},{"p":"inc","t":2,"lo":-6e-7,"hi":3e-6},{"p":"inc","t":2.5,"lo":-1.1e-6,"hi":4e-6},{"p":"inc","t":3,"lo":-6e-7,"hi":4.9e-6},{"p":"inc","t":3.5,"lo":-2e-7,"hi":6.3e-6},{"p":"inc","t":4,"lo":-2e-7,"hi":6.8e-6},{"p":"inc","t":4.5,"lo":-5e-7,"hi":7.2e-6},{"p":"inc","t":5,"lo":-1.1e-6,"hi":8.1e-6},{"p":"inc","t":5.1,"lo":-6.2e-6,"hi":7.5e-6},{"p":"inc","t":5.5,"lo":-8.5e-6,"hi":5.4e-6},{"p":"inc","t":6,"lo":-9e-6,"hi":5.4e-6},{"p":"inc","t":6.1,"lo":-1.22e-5,"hi":8.1e-6},{"p":"inc","t":6.5,"lo":-1.22e-5,"hi":9.5e-6},{"p":"inc","t":7,"lo":-1.13e-5,"hi":1.23e-5},{"p":"inc","t":7.1,"lo":-1.1e-5,"hi":1.56e-5},{"p":"inc","t":7.3,"lo":-1.05e-5,"hi":1.7e-5},{"p":"inc","t":7.75,"lo":-1.08e-5,"hi":1.7e-5},{"p":"inc","t":7.8,"lo":-6.7e-6,"hi":1.7e-5},{"p":"inc","t":7.85,"lo":-6.7e-6,"hi":2.9e-5},{"p":"inc","t":7.98,"lo":-6.7e-6,"hi":2.9e-5},{"p":"inc","t":8,"lo":-2.24e-5,"hi":2.9e-5},{"p":"inc","t":8.1,"lo":-2.24e-5,"hi":2.71e-5},{"p":"inc","t":8.45,"lo":-2.24e-5,"hi":2.71e-5},
      {"p":"ins","t":0,"lo":0,"hi":0},{"p":"ins","t":0.5,"lo":-0.0013,"hi":0.0046},{"p":"ins","t":1,"lo":-0.0008,"hi":0.0078},{"p":"ins","t":1.5,"lo":-0.0002,"hi":0.0116},{"p":"ins","t":1.9,"lo":-0.0005,"hi":0.0143},{"p":"ins","t":2.3,"lo":-0.004,"hi":0.0105},{"p":"ins","t":2.5,"lo":-0.0056,"hi":0.01},{"p":"ins","t":2.7,"lo":-0.007,"hi":0.01},{"p":"ins","t":3,"lo":-0.0083,"hi":0.0127},{"p":"ins","t":3.5,"lo":-0.011,"hi":0.0132},{"p":"ins","t":3.6,"lo":-0.0105,"hi":0.017},{"p":"ins","t":4,"lo":-0.0099,"hi":0.0143},{"p":"ins","t":4.5,"lo":-0.012,"hi":0.0175},{"p":"ins","t":5,"lo":-0.0152,"hi":0.0186},{"p":"ins","t":5.5,"lo":-0.0165,"hi":0.021},{"p":"ins","t":6.1,"lo":-0.0185,"hi":0.0234},{"p":"ins","t":6.6,"lo":-0.0217,"hi":0.0267},{"p":"ins","t":6.85,"lo":-0.0206,"hi":0.031},{"p":"ins","t":7.3,"lo":-0.0228,"hi":0.03},{"p":"ins","t":7.8,"lo":-0.028,"hi":0.0202},{"p":"ins","t":7.97,"lo":-0.0346,"hi":0.0183},{"p":"ins","t":8.45,"lo":-0.037,"hi":0.0183},
      {"p":"int","t":0,"lo":0,"hi":0},{"p":"int","t":0.5,"lo":-0.022,"hi":-0.009},{"p":"int","t":1,"lo":-0.042,"hi":-0.013},{"p":"int","t":1.5,"lo":-0.062,"hi":-0.022},{"p":"int","t":2,"lo":-0.082,"hi":-0.029},{"p":"int","t":2.5,"lo":-0.095,"hi":-0.036},{"p":"int","t":3,"lo":-0.122,"hi":-0.042},{"p":"int","t":3.5,"lo":-0.142,"hi":-0.049},{"p":"int","t":4,"lo":-0.168,"hi":-0.042},{"p":"int","t":4.5,"lo":-0.188,"hi":-0.036},{"p":"int","t":5,"lo":-0.208,"hi":-0.009},{"p":"int","t":5.2,"lo":-0.2,"hi":0.024},{"p":"int","t":5.5,"lo":-0.181,"hi":0.044},{"p":"int","t":6,"lo":-0.188,"hi":0.057},{"p":"int","t":6.2,"lo":-0.2,"hi":0.07},{"p":"int","t":6.5,"lo":-0.221,"hi":0.05},{"p":"int","t":7,"lo":-0.3,"hi":0.011},{"p":"int","t":7.3,"lo":-0.38,"hi":-0.003},{"p":"int","t":7.55,"lo":-0.386,"hi":0.004},{"p":"int","t":7.75,"lo":-0.39,"hi":-0.042},{"p":"int","t":7.8,"lo":-0.571,"hi":-0.042},{"p":"int","t":8.15,"lo":-0.571,"hi":-0.042},{"p":"int","t":8.17,"lo":-0.545,"hi":0.176},{"p":"int","t":8.45,"lo":-0.545,"hi":0.176},
      {"p":"ckd","t":0,"lo":0.001,"hi":0.001},{"p":"ckd","t":0.3,"lo":-0.0033,"hi":0.0086},{"p":"ckd","t":0.5,"lo":-0.0045,"hi":0.011},{"p":"ckd","t":1,"lo":-0.0057,"hi":0.0157},{"p":"ckd","t":1.5,"lo":-0.0045,"hi":0.0205},{"p":"ckd","t":2,"lo":-0.0033,"hi":0.0277},{"p":"ckd","t":2.5,"lo":-0.0069,"hi":0.03},{"p":"ckd","t":2.9,"lo":-0.0093,"hi":0.0336},{"p":"ckd","t":3.5,"lo":-0.0117,"hi":0.0277},{"p":"ckd","t":3.6,"lo":-0.012,"hi":0.0324},{"p":"ckd","t":4,"lo":-0.0153,"hi":0.0253},{"p":"ckd","t":4.05,"lo":-0.0155,"hi":0.0384},{"p":"ckd","t":4.5,"lo":-0.0188,"hi":0.0348},{"p":"ckd","t":5,"lo":-0.0224,"hi":0.03},{"p":"ckd","t":5.5,"lo":-0.026,"hi":0.0277},{"p":"ckd","t":6,"lo":-0.0296,"hi":0.0241},{"p":"ckd","t":6.2,"lo":-0.032,"hi":0.023},{"p":"ckd","t":6.25,"lo":-0.033,"hi":0.0956},{"p":"ckd","t":6.5,"lo":-0.0367,"hi":0.092},{"p":"ckd","t":7,"lo":-0.0427,"hi":0.085},{"p":"ckd","t":7.5,"lo":-0.0475,"hi":0.0813},{"p":"ckd","t":7.8,"lo":-0.0534,"hi":0.0765},{"p":"ckd","t":8,"lo":-0.0582,"hi":0.073},{"p":"ckd","t":8.45,"lo":-0.0582,"hi":0.073},
      {"p":"sex","t":0,"lo":0,"hi":0},{"p":"sex","t":0.5,"lo":0.0006,"hi":0.0049},{"p":"sex","t":1,"lo":0.0037,"hi":0.0086},{"p":"sex","t":1.5,"lo":0.0049,"hi":0.011},{"p":"sex","t":2,"lo":0.0074,"hi":0.0147},{"p":"sex","t":2.5,"lo":0.0092,"hi":0.0172},{"p":"sex","t":3,"lo":0.011,"hi":0.0215},{"p":"sex","t":3.5,"lo":0.0141,"hi":0.0264},{"p":"sex","t":4,"lo":0.0166,"hi":0.0319},{"p":"sex","t":4.5,"lo":0.019,"hi":0.0362},{"p":"sex","t":5,"lo":0.0209,"hi":0.0411},{"p":"sex","t":5.5,"lo":0.0233,"hi":0.0448},{"p":"sex","t":6,"lo":0.0252,"hi":0.0472},{"p":"sex","t":6.5,"lo":0.0252,"hi":0.0509},{"p":"sex","t":7,"lo":0.0288,"hi":0.0583},{"p":"sex","t":7.3,"lo":0.0319,"hi":0.0669},{"p":"sex","t":7.6,"lo":0.034,"hi":0.068},{"p":"sex","t":7.8,"lo":0.0356,"hi":0.0724},{"p":"sex","t":7.9,"lo":0.0319,"hi":0.0724},{"p":"sex","t":8.1,"lo":0.038,"hi":0.0773},{"p":"sex","t":8.45,"lo":0.038,"hi":0.0773},
      {"p":"ob","t":0,"lo":0,"hi":0},{"p":"ob","t":0.5,"lo":-0.0014,"hi":0.0011},{"p":"ob","t":1,"lo":-0.0014,"hi":0.0029},{"p":"ob","t":1.5,"lo":-0.0017,"hi":0.0044},{"p":"ob","t":2,"lo":-0.0021,"hi":0.0058},{"p":"ob","t":2.5,"lo":-0.0024,"hi":0.0069},{"p":"ob","t":3,"lo":-0.0035,"hi":0.0076},{"p":"ob","t":3.5,"lo":-0.0064,"hi":0.0065},{"p":"ob","t":4,"lo":-0.0092,"hi":0.0044},{"p":"ob","t":4.5,"lo":-0.01,"hi":0.0054},{"p":"ob","t":5,"lo":-0.0107,"hi":0.0072},{"p":"ob","t":5.5,"lo":-0.0121,"hi":0.0083},{"p":"ob","t":6,"lo":-0.0121,"hi":0.0101},{"p":"ob","t":6.05,"lo":-0.0092,"hi":0.0144},{"p":"ob","t":6.5,"lo":-0.0085,"hi":0.0165},{"p":"ob","t":7,"lo":-0.0092,"hi":0.0201},{"p":"ob","t":7.3,"lo":-0.008,"hi":0.0201},{"p":"ob","t":7.6,"lo":-0.0078,"hi":0.0237},{"p":"ob","t":7.8,"lo":-0.0057,"hi":0.0237},{"p":"ob","t":7.83,"lo":-0.0125,"hi":0.0291},{"p":"ob","t":7.9,"lo":-0.0125,"hi":0.0259},{"p":"ob","t":8.1,"lo":-0.0125,"hi":0.0237},{"p":"ob","t":8.3,"lo":-0.0164,"hi":0.0237},{"p":"ob","t":8.45,"lo":-0.0164,"hi":0.0237},
      {"p":"op","t":0,"lo":0,"hi":0},{"p":"op","t":0.2,"lo":0,"hi":0.0059},{"p":"op","t":0.5,"lo":0.0014,"hi":0.0096},{"p":"op","t":1,"lo":0.0036,"hi":0.0132},{"p":"op","t":1.5,"lo":0.0059,"hi":0.0164},{"p":"op","t":2,"lo":0.0078,"hi":0.0187},{"p":"op","t":2.5,"lo":0.0091,"hi":0.0223},{"p":"op","t":3,"lo":0.0114,"hi":0.0251},{"p":"op","t":3.5,"lo":0.0128,"hi":0.0285},{"p":"op","t":4,"lo":0.015,"hi":0.0324},{"p":"op","t":4.43,"lo":0.0155,"hi":0.0333},{"p":"op","t":4.6,"lo":0.016,"hi":0.0351},{"p":"op","t":5,"lo":0.0169,"hi":0.0369},{"p":"op","t":5.5,"lo":0.0205,"hi":0.0433},{"p":"op","t":6,"lo":0.0205,"hi":0.047},{"p":"op","t":6.23,"lo":0.0233,"hi":0.0497},{"p":"op","t":6.45,"lo":0.0235,"hi":0.0556},{"p":"op","t":6.9,"lo":0.0237,"hi":0.056},{"p":"op","t":7.1,"lo":0.023,"hi":0.0579},{"p":"op","t":7.2,"lo":0.0228,"hi":0.0611},{"p":"op","t":7.3,"lo":0.0225,"hi":0.0584},{"p":"op","t":7.46,"lo":0.0205,"hi":0.057},{"p":"op","t":7.8,"lo":0.0187,"hi":0.0552},{"p":"op","t":7.96,"lo":0.016,"hi":0.0543},{"p":"op","t":8.45,"lo":0.0155,"hi":0.0538},
      {"p":"sm","t":0,"lo":0,"hi":0},{"p":"sm","t":0.3,"lo":-0.001,"hi":0.0014},{"p":"sm","t":0.5,"lo":-0.0014,"hi":0.0018},{"p":"sm","t":1,"lo":-0.0026,"hi":0.0025},{"p":"sm","t":1.5,"lo":-0.0034,"hi":0.003},{"p":"sm","t":2,"lo":-0.0038,"hi":0.0037},{"p":"sm","t":2.2,"lo":-0.0026,"hi":0.0069},{"p":"sm","t":2.5,"lo":-0.0022,"hi":0.0077},{"p":"sm","t":3,"lo":-0.0022,"hi":0.0085},{"p":"sm","t":3.5,"lo":-0.0026,"hi":0.0093},{"p":"sm","t":4,"lo":-0.0038,"hi":0.0117},{"p":"sm","t":4.5,"lo":-0.0026,"hi":0.0149},{"p":"sm","t":4.8,"lo":0.0006,"hi":0.0193},{"p":"sm","t":5,"lo":-0.001,"hi":0.0185},{"p":"sm","t":5.5,"lo":-0.0034,"hi":0.0173},{"p":"sm","t":6,"lo":-0.0066,"hi":0.0157},{"p":"sm","t":6.2,"lo":-0.0086,"hi":0.0189},{"p":"sm","t":6.5,"lo":-0.0034,"hi":0.0245},{"p":"sm","t":6.8,"lo":-0.0106,"hi":0.0245},{"p":"sm","t":7,"lo":-0.0114,"hi":0.0241},{"p":"sm","t":7.4,"lo":-0.011,"hi":0.0249},{"p":"sm","t":7.6,"lo":-0.0095,"hi":0.0284},{"p":"sm","t":7.8,"lo":-0.0082,"hi":0.0328},{"p":"sm","t":7.95,"lo":-0.005,"hi":0.0416},{"p":"sm","t":8.2,"lo":-0.005,"hi":0.04},{"p":"sm","t":8.45,"lo":-0.005,"hi":0.04}
    ]
  },
  "columns": 5,
  "spacing": {"row": 8, "column": 55},
  "bounds": "flush",
  "concat": [
    {"width":299,"height":274,"resolve":{"scale":{"y":"independent"}},"layer":[
      {"layer":[
        {"data":{"name":"xminor"},"mark":"rule","encoding":{"x":{"field":"x","type":"quantitative","title":null}}},
        {"data":{"values":[{"y":0.0005},{"y":0.0015},{"y":0.0025}]},"mark":"rule","encoding":{"y":{"field":"y","type":"quantitative","title":null}}},
        {"data":{"name":"ci"},"transform":[{"filter":"datum.p == 'age'"}],"mark":{"type":"area","color":"#F8766D"},"encoding":{"x":{"field":"t","type":"quantitative","title":null,"scale":{"domain":[-0.4225,8.8725],"nice":false,"zero":false},"axis":{"values":[0,2,4,6,8],"labels":false,"ticks":false}},"y":{"field":"lo","type":"quantitative","title":null,"scale":{"domain":[-0.00016,0.00316],"range":[274,31],"nice":false,"zero":false},"axis":{"values":[0,0.001,0.002,0.003],"format":".3f"}},"y2":{"field":"hi"}}},
        {"data":{"name":"est"},"transform":[{"filter":"datum.p == 'age'"}],"mark":{"type":"line","color":"#F8766D"},"encoding":{"x":{"field":"t","type":"quantitative","title":null},"y":{"field":"y","type":"quantitative","title":null}}}
      ]},
      {"data":{"values":[{"label":"Age"}]},"layer":[
        {"mark":"rect","encoding":{"x":{"datum":-0.4225,"type":"quantitative","title":null},"x2":{"datum":8.8725},"y":{"datum":1,"type":"quantitative","title":null,"scale":{"domain":[0,1],"range":[31,0]},"axis":null},"y2":{"datum":0}}},
        {"mark":"text","encoding":{"x":{"datum":4.225,"type":"quantitative","title":null},"y":{"datum":0.5,"type":"quantitative","title":null},"text":{"field":"label"}}}
      ]}
    ]},
    {"width":299,"height":274,"resolve":{"scale":{"y":"independent"}},"layer":[
      {"layer":[
        {"data":{"name":"xminor"},"mark":"rule","encoding":{"x":{"field":"x","type":"quantitative","title":null}}},
        {"data":{"values":[{"y":0.0125},{"y":0.0375},{"y":0.0625},{"y":0.0875}]},"mark":"rule","encoding":{"y":{"field":"y","type":"quantitative","title":null}}},
        {"data":{"name":"ci"},"transform":[{"filter":"datum.p == 'alc'"}],"mark":{"type":"area","color":"#E88526"},"encoding":{"x":{"field":"t","type":"quantitative","title":null,"scale":{"domain":[-0.4225,8.8725],"nice":false,"zero":false},"axis":{"values":[0,2,4,6,8],"labels":false,"ticks":false}},"y":{"field":"lo","type":"quantitative","title":null,"scale":{"domain":[-0.0076,0.1082],"range":[274,31],"nice":false,"zero":false},"axis":{"values":[0,0.025,0.05,0.075,0.1],"format":".3f"}},"y2":{"field":"hi"}}},
        {"data":{"name":"est"},"transform":[{"filter":"datum.p == 'alc'"}],"mark":{"type":"line","color":"#E88526"},"encoding":{"x":{"field":"t","type":"quantitative","title":null},"y":{"field":"y","type":"quantitative","title":null}}}
      ]},
      {"data":{"values":[{"label":"Alcohol abuse"}]},"layer":[
        {"mark":"rect","encoding":{"x":{"datum":-0.4225,"type":"quantitative","title":null},"x2":{"datum":8.8725},"y":{"datum":1,"type":"quantitative","title":null,"scale":{"domain":[0,1],"range":[31,0]},"axis":null},"y2":{"datum":0}}},
        {"mark":"text","encoding":{"x":{"datum":4.225,"type":"quantitative","title":null},"y":{"datum":0.5,"type":"quantitative","title":null},"text":{"field":"label"}}}
      ]}
    ]},
    {"width":299,"height":274,"resolve":{"scale":{"y":"independent"}},"layer":[
      {"layer":[
        {"data":{"name":"xminor"},"mark":"rule","encoding":{"x":{"field":"x","type":"quantitative","title":null}}},
        {"data":{"values":[{"y":-0.005},{"y":0.005},{"y":0.015}]},"mark":"rule","encoding":{"y":{"field":"y","type":"quantitative","title":null}}},
        {"data":{"name":"ci"},"transform":[{"filter":"datum.p == 'cci'"}],"mark":{"type":"area","color":"#D39200"},"encoding":{"x":{"field":"t","type":"quantitative","title":null,"scale":{"domain":[-0.4225,8.8725],"nice":false,"zero":false},"axis":{"values":[0,2,4,6,8],"labels":false,"ticks":false}},"y":{"field":"lo","type":"quantitative","title":null,"scale":{"domain":[-0.0083,0.02406],"range":[274,31],"nice":false,"zero":false},"axis":{"values":[0,0.01,0.02],"format":".2f"}},"y2":{"field":"hi"}}},
        {"data":{"name":"est"},"transform":[{"filter":"datum.p == 'cci'"}],"mark":{"type":"line","color":"#D39200"},"encoding":{"x":{"field":"t","type":"quantitative","title":null},"y":{"field":"y","type":"quantitative","title":null}}}
      ]},
      {"data":{"values":[{"label":"Charlson Comorbidity Index"}]},"layer":[
        {"mark":"rect","encoding":{"x":{"datum":-0.4225,"type":"quantitative","title":null},"x2":{"datum":8.8725},"y":{"datum":1,"type":"quantitative","title":null,"scale":{"domain":[0,1],"range":[31,0]},"axis":null},"y2":{"datum":0}}},
        {"mark":"text","encoding":{"x":{"datum":4.225,"type":"quantitative","title":null},"y":{"datum":0.5,"type":"quantitative","title":null},"text":{"field":"label"}}}
      ]}
    ]},
    {"width":299,"height":274,"resolve":{"scale":{"y":"independent"}},"layer":[
      {"layer":[
        {"data":{"name":"xminor"},"mark":"rule","encoding":{"x":{"field":"x","type":"quantitative","title":null}}},
        {"data":{"values":[{"y":-0.001},{"y":0.001},{"y":0.003},{"y":0.005}]},"mark":"rule","encoding":{"y":{"field":"y","type":"quantitative","title":null}}},
        {"data":{"name":"ci"},"transform":[{"filter":"datum.p == 'dd'"}],"mark":{"type":"area","color":"#B79F00"},"encoding":{"x":{"field":"t","type":"quantitative","title":null,"scale":{"domain":[-0.4225,8.8725],"nice":false,"zero":false},"axis":{"values":[0,2,4,6,8],"labels":false,"ticks":false}},"y":{"field":"lo","type":"quantitative","title":null,"scale":{"domain":[-0.00149,0.00689],"range":[274,31],"nice":false,"zero":false},"axis":{"values":[0,0.002,0.004,0.006],"format":".3f"}},"y2":{"field":"hi"}}},
        {"data":{"name":"est"},"transform":[{"filter":"datum.p == 'dd'"}],"mark":{"type":"line","color":"#B79F00"},"encoding":{"x":{"field":"t","type":"quantitative","title":null},"y":{"field":"y","type":"quantitative","title":null}}}
      ]},
      {"data":{"values":[{"label":"Diabetes duration"}]},"layer":[
        {"mark":"rect","encoding":{"x":{"datum":-0.4225,"type":"quantitative","title":null},"x2":{"datum":8.8725},"y":{"datum":1,"type":"quantitative","title":null,"scale":{"domain":[0,1],"range":[31,0]},"axis":null},"y2":{"datum":0}}},
        {"mark":"text","encoding":{"x":{"datum":4.225,"type":"quantitative","title":null},"y":{"datum":0.5,"type":"quantitative","title":null},"text":{"field":"label"}}}
      ]}
    ]},
    {"width":299,"height":274,"resolve":{"scale":{"y":"independent"}},"layer":[
      {"layer":[
        {"data":{"name":"xminor"},"mark":"rule","encoding":{"x":{"field":"x","type":"quantitative","title":null}}},
        {"data":{"values":[{"y":-0.01},{"y":0.01},{"y":0.03},{"y":0.05}]},"mark":"rule","encoding":{"y":{"field":"y","type":"quantitative","title":null}}},
        {"data":{"name":"ci"},"transform":[{"filter":"datum.p == 'dc'"}],"mark":{"type":"area","color":"#93AA00"},"encoding":{"x":{"field":"t","type":"quantitative","title":null,"scale":{"domain":[-0.4225,8.8725],"nice":false,"zero":false},"axis":{"values":[0,2,4,6,8],"labels":false,"ticks":false}},"y":{"field":"lo","type":"quantitative","title":null,"scale":{"domain":[-0.0224,0.0519],"range":[274,31],"nice":false,"zero":false},"axis":{"values":[-0.02,0,0.02,0.04],"format":".2f"}},"y2":{"field":"hi"}}},
        {"data":{"name":"est"},"transform":[{"filter":"datum.p == 'dc'"}],"mark":{"type":"line","color":"#93AA00"},"encoding":{"x":{"field":"t","type":"quantitative","title":null},"y":{"field":"y","type":"quantitative","title":null}}}
      ]},
      {"data":{"values":[{"label":"Diabetic complications"}]},"layer":[
        {"mark":"rect","encoding":{"x":{"datum":-0.4225,"type":"quantitative","title":null},"x2":{"datum":8.8725},"y":{"datum":1,"type":"quantitative","title":null,"scale":{"domain":[0,1],"range":[31,0]},"axis":null},"y2":{"datum":0}}},
        {"mark":"text","encoding":{"x":{"datum":4.225,"type":"quantitative","title":null},"y":{"datum":0.5,"type":"quantitative","title":null},"text":{"field":"label"}}}
      ]}
    ]},
    {"width":299,"height":274,"resolve":{"scale":{"y":"independent"}},"layer":[
      {"layer":[
        {"data":{"name":"xminor"},"mark":"rule","encoding":{"x":{"field":"x","type":"quantitative","title":null}}},
        {"data":{"values":[{"y":-0.03},{"y":-0.01},{"y":0.01}]},"mark":"rule","encoding":{"y":{"field":"y","type":"quantitative","title":null}}},
        {"data":{"name":"ci"},"transform":[{"filter":"datum.p == 'glp'"}],"mark":{"type":"area","color":"#5EB300"},"encoding":{"x":{"field":"t","type":"quantitative","title":null,"scale":{"domain":[-0.4225,8.8725],"nice":false,"zero":false},"axis":{"values":[0,2,4,6,8],"labels":false,"ticks":false}},"y":{"field":"lo","type":"quantitative","title":null,"scale":{"domain":[-0.0429,0.016],"range":[274,31],"nice":false,"zero":false},"axis":{"values":[-0.04,-0.02,0],"format":".2f"}},"y2":{"field":"hi"}}},
        {"data":{"name":"est"},"transform":[{"filter":"datum.p == 'glp'"}],"mark":{"type":"line","color":"#5EB300"},"encoding":{"x":{"field":"t","type":"quantitative","title":null},"y":{"field":"y","type":"quantitative","title":null}}}
      ]},
      {"data":{"values":[{"label":"GLP-1 receptor agonists"}]},"layer":[
        {"mark":"rect","encoding":{"x":{"datum":-0.4225,"type":"quantitative","title":null},"x2":{"datum":8.8725},"y":{"datum":1,"type":"quantitative","title":null,"scale":{"domain":[0,1],"range":[31,0]},"axis":null},"y2":{"datum":0}}},
        {"mark":"text","encoding":{"x":{"datum":4.225,"type":"quantitative","title":null},"y":{"datum":0.5,"type":"quantitative","title":null},"text":{"field":"label"}}}
      ]}
    ]},
    {"width":299,"height":274,"resolve":{"scale":{"y":"independent"}},"layer":[
      {"layer":[
        {"data":{"name":"xminor"},"mark":"rule","encoding":{"x":{"field":"x","type":"quantitative","title":null}}},
        {"data":{"values":[{"y":-0.02},{"y":0.02},{"y":0.06},{"y":0.1}]},"mark":"rule","encoding":{"y":{"field":"y","type":"quantitative","title":null}}},
        {"data":{"name":"ci"},"transform":[{"filter":"datum.p == 'fall'"}],"mark":{"type":"area","color":"#00BA38"},"encoding":{"x":{"field":"t","type":"quantitative","title":null,"scale":{"domain":[-0.4225,8.8725],"nice":false,"zero":false},"axis":{"values":[0,2,4,6,8],"labels":false,"ticks":false}},"y":{"field":"lo","type":"quantitative","title":null,"scale":{"domain":[-0.0313,0.1097],"range":[274,31],"nice":false,"zero":false},"axis":{"values":[0,0.04,0.08],"format":".2f"}},"y2":{"field":"hi"}}},
        {"data":{"name":"est"},"transform":[{"filter":"datum.p == 'fall'"}],"mark":{"type":"line","color":"#00BA38"},"encoding":{"x":{"field":"t","type":"quantitative","title":null},"y":{"field":"y","type":"quantitative","title":null}}}
      ]},
      {"data":{"values":[{"label":"Falls"}]},"layer":[
        {"mark":"rect","encoding":{"x":{"datum":-0.4225,"type":"quantitative","title":null},"x2":{"datum":8.8725},"y":{"datum":1,"type":"quantitative","title":null,"scale":{"domain":[0,1],"range":[31,0]},"axis":null},"y2":{"datum":0}}},
        {"mark":"text","encoding":{"x":{"datum":4.225,"type":"quantitative","title":null},"y":{"datum":0.5,"type":"quantitative","title":null},"text":{"field":"label"}}}
      ]}
    ]},
    {"width":299,"height":274,"resolve":{"scale":{"y":"independent"}},"layer":[
      {"layer":[
        {"data":{"name":"xminor"},"mark":"rule","encoding":{"x":{"field":"x","type":"quantitative","title":null}}},
        {"data":{"values":[{"y":-0.035},{"y":-0.025},{"y":-0.015},{"y":-0.005},{"y":0.005}]},"mark":"rule","encoding":{"y":{"field":"y","type":"quantitative","title":null}}},
        {"data":{"name":"ci"},"transform":[{"filter":"datum.p == 'gc'"}],"mark":{"type":"area","color":"#00BF74"},"encoding":{"x":{"field":"t","type":"quantitative","title":null,"scale":{"domain":[-0.4225,8.8725],"nice":false,"zero":false},"axis":{"values":[0,2,4,6,8],"labels":false,"ticks":false}},"y":{"field":"lo","type":"quantitative","title":null,"scale":{"domain":[-0.0426,0.012],"range":[274,31],"nice":false,"zero":false},"axis":{"values":[-0.04,-0.03,-0.02,-0.01,0,0.01],"format":".2f"}},"y2":{"field":"hi"}}},
        {"data":{"name":"est"},"transform":[{"filter":"datum.p == 'gc'"}],"mark":{"type":"line","color":"#00BF74"},"encoding":{"x":{"field":"t","type":"quantitative","title":null},"y":{"field":"y","type":"quantitative","title":null}}}
      ]},
      {"data":{"values":[{"label":"Previous glucocorticoid use"}]},"layer":[
        {"mark":"rect","encoding":{"x":{"datum":-0.4225,"type":"quantitative","title":null},"x2":{"datum":8.8725},"y":{"datum":1,"type":"quantitative","title":null,"scale":{"domain":[0,1],"range":[31,0]},"axis":null},"y2":{"datum":0}}},
        {"mark":"text","encoding":{"x":{"datum":4.225,"type":"quantitative","title":null},"y":{"datum":0.5,"type":"quantitative","title":null},"text":{"field":"label"}}}
      ]}
    ]},
    {"width":299,"height":274,"resolve":{"scale":{"y":"independent"}},"layer":[
      {"layer":[
        {"data":{"name":"xminor"},"mark":"rule","encoding":{"x":{"field":"x","type":"quantitative","title":null}}},
        {"data":{"values":[{"y":-0.025},{"y":-0.015},{"y":-0.005},{"y":0.005},{"y":0.015}]},"mark":"rule","encoding":{"y":{"field":"y","type":"quantitative","title":null}}},
        {"data":{"name":"ci"},"transform":[{"filter":"datum.p == 'ht'"}],"mark":{"type":"area","color":"#00C19F"},"encoding":{"x":{"field":"t","type":"quantitative","title":null,"scale":{"domain":[-0.4225,8.8725],"nice":false,"zero":false},"axis":{"values":[0,2,4,6,8],"labels":false,"ticks":false}},"y":{"field":"lo","type":"quantitative","title":null,"scale":{"domain":[-0.0318,0.0185],"range":[274,31],"nice":false,"zero":false},"axis":{"values":[-0.03,-0.02,-0.01,0,0.01],"format":".2f"}},"y2":{"field":"hi"}}},
        {"data":{"name":"est"},"transform":[{"filter":"datum.p == 'ht'"}],"mark":{"type":"line","color":"#00C19F"},"encoding":{"x":{"field":"t","type":"quantitative","title":null},"y":{"field":"y","type":"quantitative","title":null}}}
      ]},
      {"data":{"values":[{"label":"Hypertension"}]},"layer":[
        {"mark":"rect","encoding":{"x":{"datum":-0.4225,"type":"quantitative","title":null},"x2":{"datum":8.8725},"y":{"datum":1,"type":"quantitative","title":null,"scale":{"domain":[0,1],"range":[31,0]},"axis":null},"y2":{"datum":0}}},
        {"mark":"text","encoding":{"x":{"datum":4.225,"type":"quantitative","title":null},"y":{"datum":0.5,"type":"quantitative","title":null},"text":{"field":"label"}}}
      ]}
    ]},
    {"width":299,"height":274,"resolve":{"scale":{"y":"independent"}},"layer":[
      {"layer":[
        {"data":{"name":"xminor"},"mark":"rule","encoding":{"x":{"field":"x","type":"quantitative","title":null}}},
        {"data":{"values":[{"y":-0.0375},{"y":-0.0125},{"y":0.0125},{"y":0.0375},{"y":0.0625}]},"mark":"rule","encoding":{"y":{"field":"y","type":"quantitative","title":null}}},
        {"data":{"name":"ci"},"transform":[{"filter":"datum.p == 'ibd'"}],"mark":{"type":"area","color":"#00BFC4"},"encoding":{"x":{"field":"t","type":"quantitative","title":null,"scale":{"domain":[-0.4225,8.8725],"nice":false,"zero":false},"axis":{"values":[0,2,4,6,8],"labels":false,"ticks":false}},"y":{"field":"lo","type":"quantitative","title":null,"scale":{"domain":[-0.0503,0.0695],"range":[274,31],"nice":false,"zero":false},"axis":{"values":[-0.05,-0.025,0,0.025,0.05],"format":".3f"}},"y2":{"field":"hi"}}},
        {"data":{"name":"est"},"transform":[{"filter":"datum.p == 'ibd'"}],"mark":{"type":"line","color":"#00BFC4"},"encoding":{"x":{"field":"t","type":"quantitative","title":null},"y":{"field":"y","type":"quantitative","title":null}}}
      ]},
      {"data":{"values":[{"label":"Inflammatory Bowel Disease"}]},"layer":[
        {"mark":"rect","encoding":{"x":{"datum":-0.4225,"type":"quantitative","title":null},"x2":{"datum":8.8725},"y":{"datum":1,"type":"quantitative","title":null,"scale":{"domain":[0,1],"range":[31,0]},"axis":null},"y2":{"datum":0}}},
        {"mark":"text","encoding":{"x":{"datum":4.225,"type":"quantitative","title":null},"y":{"datum":0.5,"type":"quantitative","title":null},"text":{"field":"label"}}}
      ]}
    ]},
    {"width":299,"height":274,"resolve":{"scale":{"y":"independent"}},"layer":[
      {"layer":[
        {"data":{"name":"xminor"},"mark":"rule","encoding":{"x":{"field":"x","type":"quantitative","title":null}}},
        {"data":{"values":[{"y":-1e-5},{"y":1e-5},{"y":3e-5}]},"mark":"rule","encoding":{"y":{"field":"y","type":"quantitative","title":null}}},
        {"data":{"name":"ci"},"transform":[{"filter":"datum.p == 'inc'"}],"mark":{"type":"area","color":"#00B9E3"},"encoding":{"x":{"field":"t","type":"quantitative","title":null,"scale":{"domain":[-0.4225,8.8725],"nice":false,"zero":false},"axis":{"values":[0,2,4,6,8],"labels":false,"ticks":false}},"y":{"field":"lo","type":"quantitative","title":null,"scale":{"domain":[-2.58e-5,4.13e-5],"range":[274,31],"nice":false,"zero":false},"axis":{"values":[-2e-5,0,2e-5,4e-5],"labelExpr":"replace(replace(format(datum.value, '.0e'), 'e-', 'e-0'), 'e+', 'e+0')"}},"y2":{"field":"hi"}}},
        {"data":{"name":"est"},"transform":[{"filter":"datum.p == 'inc'"}],"mark":{"type":"line","color":"#00B9E3"},"encoding":{"x":{"field":"t","type":"quantitative","title":null},"y":{"field":"y","type":"quantitative","title":null}}}
      ]},
      {"data":{"values":[{"label":"Inclusion date"}]},"layer":[
        {"mark":"rect","encoding":{"x":{"datum":-0.4225,"type":"quantitative","title":null},"x2":{"datum":8.8725},"y":{"datum":1,"type":"quantitative","title":null,"scale":{"domain":[0,1],"range":[31,0]},"axis":null},"y2":{"datum":0}}},
        {"mark":"text","encoding":{"x":{"datum":4.225,"type":"quantitative","title":null},"y":{"datum":0.5,"type":"quantitative","title":null},"text":{"field":"label"}}}
      ]}
    ]},
    {"width":299,"height":274,"resolve":{"scale":{"y":"independent"}},"layer":[
      {"layer":[
        {"data":{"name":"xminor"},"mark":"rule","encoding":{"x":{"field":"x","type":"quantitative","title":null}}},
        {"data":{"values":[{"y":-0.03},{"y":-0.01},{"y":0.01},{"y":0.03}]},"mark":"rule","encoding":{"y":{"field":"y","type":"quantitative","title":null}}},
        {"data":{"name":"ci"},"transform":[{"filter":"datum.p == 'ins'"}],"mark":{"type":"area","color":"#00ADFA"},"encoding":{"x":{"field":"t","type":"quantitative","title":null,"scale":{"domain":[-0.4225,8.8725],"nice":false,"zero":false},"axis":{"values":[0,2,4,6,8],"labels":false,"ticks":false}},"y":{"field":"lo","type":"quantitative","title":null,"scale":{"domain":[-0.0439,0.034],"range":[274,31],"nice":false,"zero":false},"axis":{"values":[-0.04,-0.02,0,0.02],"format":".2f"}},"y2":{"field":"hi"}}},
        {"data":{"name":"est"},"transform":[{"filter":"datum.p == 'ins'"}],"mark":{"type":"line","color":"#00ADFA"},"encoding":{"x":{"field":"t","type":"quantitative","title":null},"y":{"field":"y","type":"quantitative","title":null}}}
      ]},
      {"data":{"values":[{"label":"Previous insulin use"}]},"layer":[
        {"mark":"rect","encoding":{"x":{"datum":-0.4225,"type":"quantitative","title":null},"x2":{"datum":8.8725},"y":{"datum":1,"type":"quantitative","title":null,"scale":{"domain":[0,1],"range":[31,0]},"axis":null},"y2":{"datum":0}}},
        {"mark":"text","encoding":{"x":{"datum":4.225,"type":"quantitative","title":null},"y":{"datum":0.5,"type":"quantitative","title":null},"text":{"field":"label"}}}
      ]}
    ]},
    {"width":299,"height":274,"resolve":{"scale":{"y":"independent"}},"layer":[
      {"layer":[
        {"data":{"name":"xminor"},"mark":"rule","encoding":{"x":{"field":"x","type":"quantitative","title":null}}},
        {"data":{"values":[{"y":-0.625},{"y":-0.375},{"y":-0.125},{"y":0.125}]},"mark":"rule","encoding":{"y":{"field":"y","type":"quantitative","title":null}}},
        {"data":{"name":"ci"},"transform":[{"filter":"datum.p == 'int'"}],"mark":{"type":"area","color":"#619CFF"},"encoding":{"x":{"field":"t","type":"quantitative","title":null,"scale":{"domain":[-0.4225,8.8725],"nice":false,"zero":false},"axis":{"values":[0,2,4,6,8],"labels":false,"ticks":false}},"y":{"field":"lo","type":"quantitative","title":null,"scale":{"domain":[-0.752,0.213],"range":[274,31],"nice":false,"zero":false},"axis":{"values":[-0.75,-0.5,-0.25,0],"format":".2f"}},"y2":{"field":"hi"}}},
        {"data":{"name":"est"},"transform":[{"filter":"datum.p == 'int'"}],"mark":{"type":"line","color":"#619CFF"},"encoding":{"x":{"field":"t","type":"quantitative","title":null},"y":{"field":"y","type":"quantitative","title":null}}}
      ]},
      {"data":{"values":[{"label":"Intercept"}]},"layer":[
        {"mark":"rect","encoding":{"x":{"datum":-0.4225,"type":"quantitative","title":null},"x2":{"datum":8.8725},"y":{"datum":1,"type":"quantitative","title":null,"scale":{"domain":[0,1],"range":[31,0]},"axis":null},"y2":{"datum":0}}},
        {"mark":"text","encoding":{"x":{"datum":4.225,"type":"quantitative","title":null},"y":{"datum":0.5,"type":"quantitative","title":null},"text":{"field":"label"}}}
      ]}
    ]},
    {"width":299,"height":274,"resolve":{"scale":{"y":"independent"}},"layer":[
      {"layer":[
        {"data":{"name":"xminor"},"mark":"rule","encoding":{"x":{"field":"x","type":"quantitative","title":null}}},
        {"data":{"values":[{"y":-0.025},{"y":0.025},{"y":0.075}]},"mark":"rule","encoding":{"y":{"field":"y","type":"quantitative","title":null}}},
        {"data":{"name":"ci"},"transform":[{"filter":"datum.p == 'ckd'"}],"mark":{"type":"area","color":"#AE87FF"},"encoding":{"x":{"field":"t","type":"quantitative","title":null,"scale":{"domain":[-0.4225,8.8725],"nice":false,"zero":false},"axis":{"values":[0,2,4,6,8],"format":"d"}},"y":{"field":"lo","type":"quantitative","title":null,"scale":{"domain":[-0.0692,0.1036],"range":[274,31],"nice":false,"zero":false},"axis":{"values":[-0.05,0,0.05,0.1],"format":".2f"}},"y2":{"field":"hi"}}},
        {"data":{"name":"est"},"transform":[{"filter":"datum.p == 'ckd'"}],"mark":{"type":"line","color":"#AE87FF"},"encoding":{"x":{"field":"t","type":"quantitative","title":null},"y":{"field":"y","type":"quantitative","title":null}}}
      ]},
      {"data":{"values":[{"label":"Chronic Kidney Disease"}]},"layer":[
        {"mark":"rect","encoding":{"x":{"datum":-0.4225,"type":"quantitative","title":null},"x2":{"datum":8.8725},"y":{"datum":1,"type":"quantitative","title":null,"scale":{"domain":[0,1],"range":[31,0]},"axis":null},"y2":{"datum":0}}},
        {"mark":"text","encoding":{"x":{"datum":4.225,"type":"quantitative","title":null},"y":{"datum":0.5,"type":"quantitative","title":null},"text":{"field":"label"}}}
      ]}
    ]},
    {"width":299,"height":274,"resolve":{"scale":{"y":"independent"}},"layer":[
      {"layer":[
        {"data":{"name":"xminor"},"mark":"rule","encoding":{"x":{"field":"x","type":"quantitative","title":null}}},
        {"data":{"values":[{"y":0.01},{"y":0.03},{"y":0.05},{"y":0.07}]},"mark":"rule","encoding":{"y":{"field":"y","type":"quantitative","title":null}}},
        {"data":{"name":"ci"},"transform":[{"filter":"datum.p == 'sex'"}],"mark":{"type":"area","color":"#DB72FB"},"encoding":{"x":{"field":"t","type":"quantitative","title":null,"scale":{"domain":[-0.4225,8.8725],"nice":false,"zero":false},"axis":{"values":[0,2,4,6,8],"format":"d"}},"y":{"field":"lo","type":"quantitative","title":null,"scale":{"domain":[-0.0038,0.085],"range":[274,31],"nice":false,"zero":false},"axis":{"values":[0,0.02,0.04,0.06,0.08],"format":".2f"}},"y2":{"field":"hi"}}},
        {"data":{"name":"est"},"transform":[{"filter":"datum.p == 'sex'"}],"mark":{"type":"line","color":"#DB72FB"},"encoding":{"x":{"field":"t","type":"quantitative","title":null},"y":{"field":"y","type":"quantitative","title":null}}}
      ]},
      {"data":{"values":[{"label":"Sex (female)"}]},"layer":[
        {"mark":"rect","encoding":{"x":{"datum":-0.4225,"type":"quantitative","title":null},"x2":{"datum":8.8725},"y":{"datum":1,"type":"quantitative","title":null,"scale":{"domain":[0,1],"range":[31,0]},"axis":null},"y2":{"datum":0}}},
        {"mark":"text","encoding":{"x":{"datum":4.225,"type":"quantitative","title":null},"y":{"datum":0.5,"type":"quantitative","title":null},"text":{"field":"label"}}}
      ]}
    ]},
    {"width":299,"height":274,"resolve":{"scale":{"y":"independent"}},"layer":[
      {"layer":[
        {"data":{"name":"xminor"},"mark":"rule","encoding":{"x":{"field":"x","type":"quantitative","title":null}}},
        {"data":{"values":[{"y":-0.015},{"y":-0.005},{"y":0.005},{"y":0.015},{"y":0.025}]},"mark":"rule","encoding":{"y":{"field":"y","type":"quantitative","title":null}}},
        {"data":{"name":"ci"},"transform":[{"filter":"datum.p == 'ob'"}],"mark":{"type":"area","color":"#F564E3"},"encoding":{"x":{"field":"t","type":"quantitative","title":null,"scale":{"domain":[-0.4225,8.8725],"nice":false,"zero":false},"axis":{"values":[0,2,4,6,8],"format":"d"}},"y":{"field":"lo","type":"quantitative","title":null,"scale":{"domain":[-0.019,0.0334],"range":[274,31],"nice":false,"zero":false},"axis":{"values":[-0.01,0,0.01,0.02,0.03],"format":".2f"}},"y2":{"field":"hi"}}},
        {"data":{"name":"est"},"transform":[{"filter":"datum.p == 'ob'"}],"mark":{"type":"line","color":"#F564E3"},"encoding":{"x":{"field":"t","type":"quantitative","title":null},"y":{"field":"y","type":"quantitative","title":null}}}
      ]},
      {"data":{"values":[{"label":"Obesity"}]},"layer":[
        {"mark":"rect","encoding":{"x":{"datum":-0.4225,"type":"quantitative","title":null},"x2":{"datum":8.8725},"y":{"datum":1,"type":"quantitative","title":null,"scale":{"domain":[0,1],"range":[31,0]},"axis":null},"y2":{"datum":0}}},
        {"mark":"text","encoding":{"x":{"datum":4.225,"type":"quantitative","title":null},"y":{"datum":0.5,"type":"quantitative","title":null},"text":{"field":"label"}}}
      ]}
    ]},
    {"width":299,"height":274,"resolve":{"scale":{"y":"independent"}},"layer":[
      {"layer":[
        {"data":{"name":"xminor"},"mark":"rule","encoding":{"x":{"field":"x","type":"quantitative","title":null}}},
        {"data":{"values":[{"y":0.01},{"y":0.03},{"y":0.05}]},"mark":"rule","encoding":{"y":{"field":"y","type":"quantitative","title":null}}},
        {"data":{"name":"ci"},"transform":[{"filter":"datum.p == 'op'"}],"mark":{"type":"area","color":"#FF61C3"},"encoding":{"x":{"field":"t","type":"quantitative","title":null,"scale":{"domain":[-0.4225,8.8725],"nice":false,"zero":false},"axis":{"values":[0,2,4,6,8],"format":"d"}},"y":{"field":"lo","type":"quantitative","title":null,"scale":{"domain":[-0.0028,0.0638],"range":[274,31],"nice":false,"zero":false},"axis":{"values":[0,0.02,0.04,0.06],"format":".2f"}},"y2":{"field":"hi"}}},
        {"data":{"name":"est"},"transform":[{"filter":"datum.p == 'op'"}],"mark":{"type":"line","color":"#FF61C3"},"encoding":{"x":{"field":"t","type":"quantitative","title":null},"y":{"field":"y","type":"quantitative","title":null}}}
      ]},
      {"data":{"values":[{"label":"Osteoporosis"}]},"layer":[
        {"mark":"rect","encoding":{"x":{"datum":-0.4225,"type":"quantitative","title":null},"x2":{"datum":8.8725},"y":{"datum":1,"type":"quantitative","title":null,"scale":{"domain":[0,1],"range":[31,0]},"axis":null},"y2":{"datum":0}}},
        {"mark":"text","encoding":{"x":{"datum":4.225,"type":"quantitative","title":null},"y":{"datum":0.5,"type":"quantitative","title":null},"text":{"field":"label"}}}
      ]}
    ]},
    {"width":299,"height":274,"resolve":{"scale":{"y":"independent"}},"layer":[
      {"layer":[
        {"data":{"name":"xminor"},"mark":"rule","encoding":{"x":{"field":"x","type":"quantitative","title":null}}},
        {"data":{"values":[{"y":-0.01},{"y":0.01},{"y":0.03}]},"mark":"rule","encoding":{"y":{"field":"y","type":"quantitative","title":null}}},
        {"data":{"name":"ci"},"transform":[{"filter":"datum.p == 'sm'"}],"mark":{"type":"area","color":"#FF699C"},"encoding":{"x":{"field":"t","type":"quantitative","title":null,"scale":{"domain":[-0.4225,8.8725],"nice":false,"zero":false},"axis":{"values":[0,2,4,6,8],"format":"d"}},"y":{"field":"lo","type":"quantitative","title":null,"scale":{"domain":[-0.01426,0.044],"range":[274,31],"nice":false,"zero":false},"axis":{"values":[0,0.02,0.04],"format":".2f"}},"y2":{"field":"hi"}}},
        {"data":{"name":"est"},"transform":[{"filter":"datum.p == 'sm'"}],"mark":{"type":"line","color":"#FF699C"},"encoding":{"x":{"field":"t","type":"quantitative","title":null},"y":{"field":"y","type":"quantitative","title":null}}}
      ]},
      {"data":{"values":[{"label":"Smoking"}]},"layer":[
        {"mark":"rect","encoding":{"x":{"datum":-0.4225,"type":"quantitative","title":null},"x2":{"datum":8.8725},"y":{"datum":1,"type":"quantitative","title":null,"scale":{"domain":[0,1],"range":[31,0]},"axis":null},"y2":{"datum":0}}},
        {"mark":"text","encoding":{"x":{"datum":4.225,"type":"quantitative","title":null},"y":{"datum":0.5,"type":"quantitative","title":null},"text":{"field":"label"}}}
      ]}
    ]}
  ],
  "config": {
    "view": {"fill": "#EBEBEB", "stroke": null},
    "locale": {"number": {"decimal": ".", "thousands": ",", "grouping": [3], "currency": ["$", ""], "minus": "-"}},
    "axis": {"domain": false, "grid": true, "gridColor": "#FFFFFF", "gridWidth": 1.8, "tickColor": "#333333", "tickSize": 4.5, "tickWidth": 1.6, "labelFont": "Liberation Sans", "labelFontSize": 15, "labelColor": "#4D4D4D", "labelPadding": 3.6, "labelOverlap": false, "labelFlush": false, "tickCount": 20},
    "rule": {"color": "#FFFFFF", "strokeWidth": 0.9},
    "rect": {"color": "#D9D9D9"},
    "area": {"opacity": 0.35},
    "line": {"strokeWidth": 1.4},
    "text": {"font": "Liberation Serif", "fontWeight": "bold", "fontSize": 19.5, "color": "#1A1A1A"}
  }
}
